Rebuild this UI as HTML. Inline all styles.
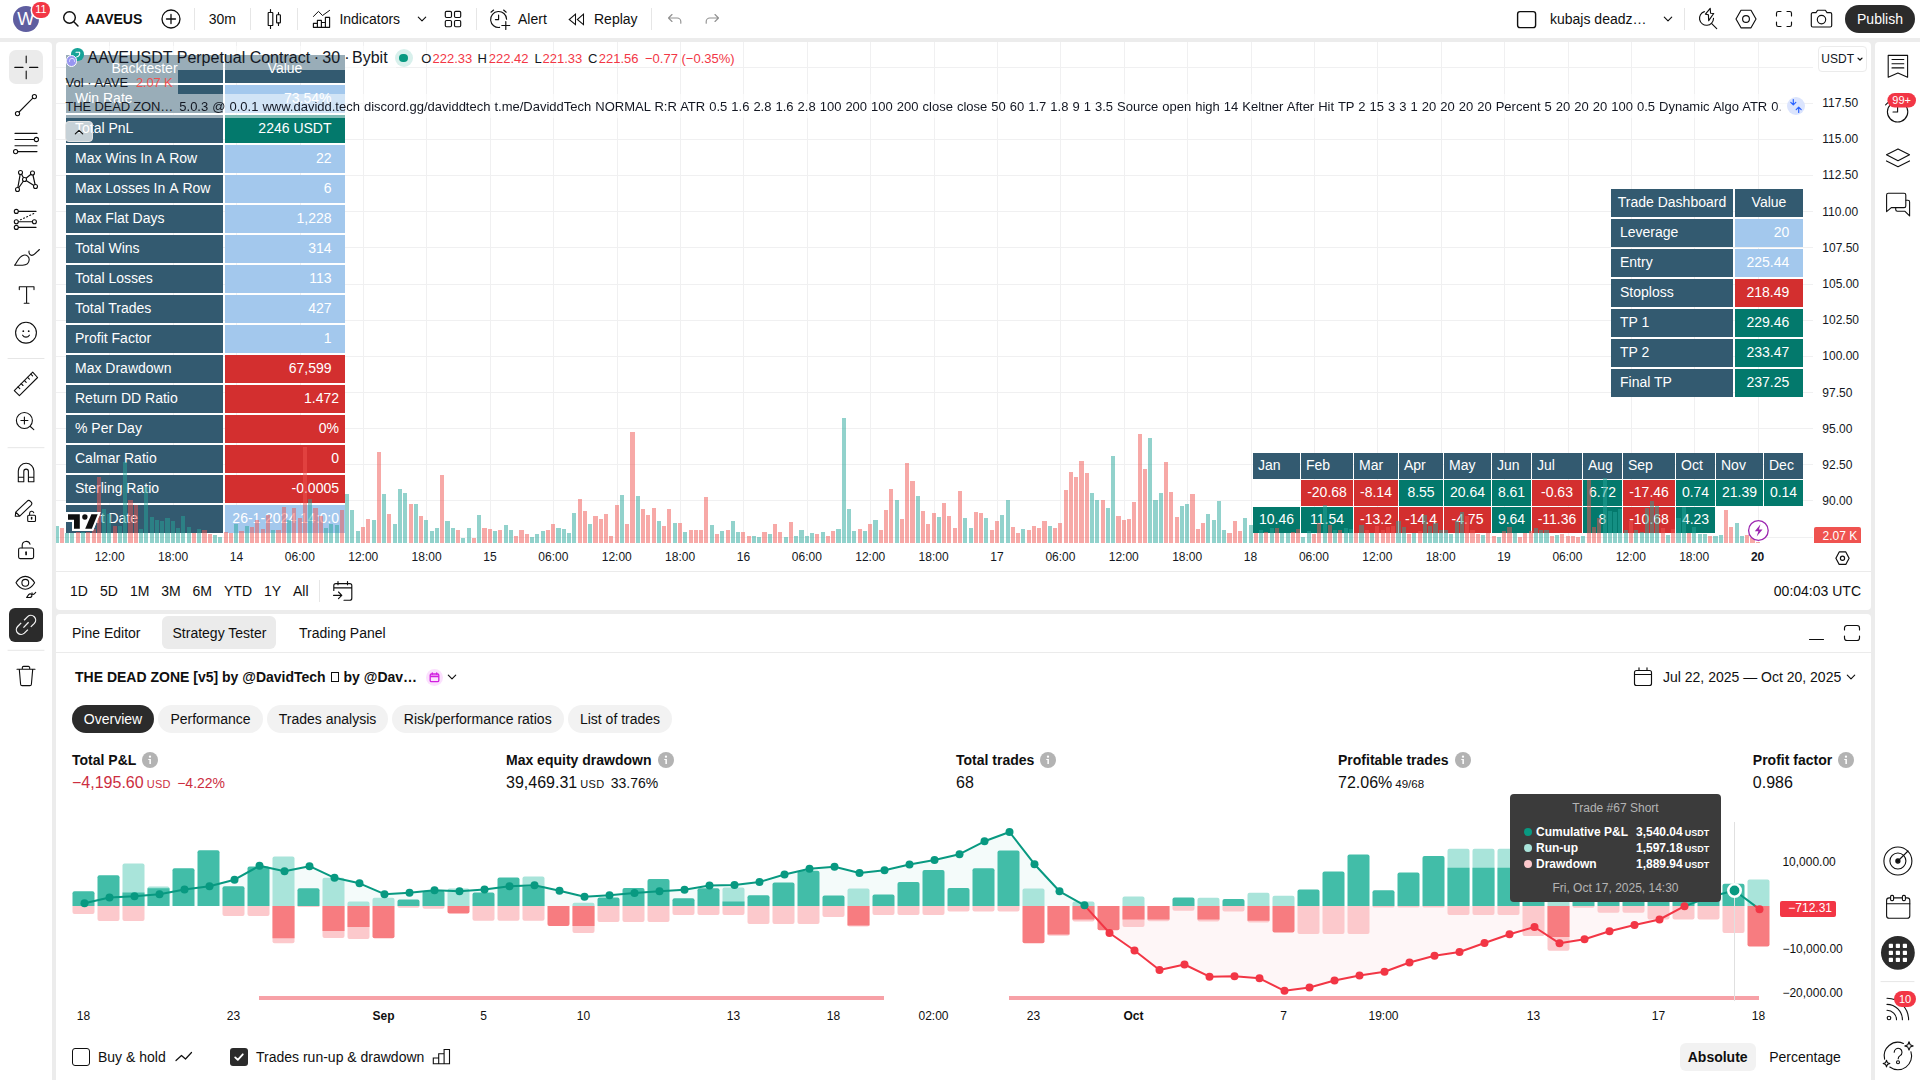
<!DOCTYPE html>
<html lang="en"><head><meta charset="utf-8"><title>AAVEUSDT chart</title>
<style>
*{box-sizing:border-box}
html,body{margin:0;padding:0}
body{width:1920px;height:1080px;overflow:hidden;background:#ececec;font-family:"Liberation Sans",sans-serif;color:#131722;position:relative;font-size:14px}
</style></head><body>
<div style="position:absolute;left:0px;top:0px;width:1920px;height:38px;background:#fff;"></div>
<div style="position:absolute;left:0px;top:42px;width:52px;height:1038px;background:#fff;border-top-right-radius:4px;"></div>
<div style="position:absolute;left:56px;top:42px;width:1815px;height:568px;background:#fff;border-radius:4px;"></div>
<div style="position:absolute;left:56px;top:614px;width:1815px;height:466px;background:#fff;border-radius:4px 4px 0 0;"></div>
<div style="position:absolute;left:1875px;top:42px;width:45px;height:1038px;background:#fff;border-top-left-radius:4px;"></div>
<div style="position:absolute;left:13px;top:6.100px;width:25.800px;height:25.800px;border-radius:50%;background:#5f5ea0"></div>
<div style="position:absolute;left:-474.2px;width:1000px;text-align:center;top:6.60px;line-height:24px;font-size:18px;color:#fff;white-space:pre;">W</div>
<div style="position:absolute;left:32.200px;top:1.800px;width:17.700px;height:16.100px;border-radius:8.050px;background:#f23645;box-shadow:0 0 0 1.500px #fff"></div>
<div style="position:absolute;left:-459px;width:1000px;text-align:center;top:0.50px;line-height:17px;font-size:11px;color:#fff;white-space:pre;">11</div>
<svg style="position:absolute;left:62px;top:10px;" width="18" height="18" viewBox="0 0 18 18" fill="none" stroke="#0f0f0f" stroke-width="1.15" stroke-linecap="round" stroke-linejoin="round"><circle cx="7.5" cy="7.5" r="5.8" stroke-width="1.45"/><path d="M11.8 11.8L16 16" stroke-width="1.45"/></svg>
<div style="position:absolute;left:85px;top:9.00px;line-height:20px;font-size:14px;font-weight:700;color:#0f0f0f;white-space:pre;">AAVEUS</div>
<svg style="position:absolute;left:160px;top:8px;" width="22" height="22" viewBox="0 0 22 22" fill="none" stroke="#0f0f0f" stroke-width="1.15" stroke-linecap="round" stroke-linejoin="round"><circle cx="11" cy="11" r="9" stroke-width="1.3"/><path d="M11 6.5v9M6.5 11h9" stroke-width="1.3"/></svg>
<div style="position:absolute;left:194px;top:8px;width:1px;height:22px;background:#e6e6e6;"></div>
<div style="position:absolute;left:208.7px;top:9.00px;line-height:20px;font-size:14px;color:#0f0f0f;white-space:pre;">30m</div>
<div style="position:absolute;left:250px;top:8px;width:1px;height:22px;background:#e6e6e6;"></div>
<svg style="position:absolute;left:264px;top:8px;" width="22" height="22" viewBox="0 0 22 22" fill="none" stroke="#0f0f0f" stroke-width="1.15" stroke-linecap="round" stroke-linejoin="round"><path d="M6.5 1.5v3M6.5 17.5v3M14.5 4.5v2M14.5 15v2.5"/><rect x="4.2" y="4.5" width="4.6" height="13" rx="0.6"/><rect x="12.6" y="6.7" width="3.8" height="8.2" rx="0.6"/></svg>
<div style="position:absolute;left:297px;top:8px;width:1px;height:22px;background:#e6e6e6;"></div>
<svg style="position:absolute;left:311px;top:8px;" width="22" height="22" viewBox="0 0 22 22" fill="none" stroke="#0f0f0f" stroke-width="1.15" stroke-linecap="round" stroke-linejoin="round"><path d="M2.4 8.500L7.500 3.400l4 4.100L18.600 2.400" stroke-width="1"/><path d="M2.400 19.300v-3.900h4v3.900zM6.400 19.300v-6.900h4v6.900zM10.400 19.300v-4.800h4v4.800zM14.400 19.300v-10h4.200v10z" stroke-width="1.150"/></svg>
<div style="position:absolute;left:339.4px;top:9.00px;line-height:20px;font-size:14px;color:#0f0f0f;white-space:pre;">Indicators</div>
<svg style="position:absolute;left:416px;top:14px;" width="12" height="10" viewBox="0 0 12 10" fill="none" stroke="#0f0f0f" stroke-width="1.15" stroke-linecap="round" stroke-linejoin="round"><path d="M2.3 3.2L6 6.8l3.7-3.6"/></svg>
<svg style="position:absolute;left:443px;top:9px;" width="20" height="20" viewBox="0 0 20 20" fill="none" stroke="#0f0f0f" stroke-width="1.15" stroke-linecap="round" stroke-linejoin="round"><rect x="2.3" y="2.3" width="6.2" height="6.2" rx="1.2"/><rect x="11.5" y="2.3" width="6.2" height="6.2" rx="1.2"/><rect x="2.3" y="11.5" width="6.2" height="6.2" rx="1.2"/><rect x="11.5" y="11.5" width="6.2" height="6.2" rx="1.2"/></svg>
<div style="position:absolute;left:476px;top:8px;width:1px;height:22px;background:#e6e6e6;"></div>
<svg style="position:absolute;left:488px;top:7px;" width="24" height="24" viewBox="0 0 24 24" fill="none" stroke="#0f0f0f" stroke-width="1.15" stroke-linecap="round" stroke-linejoin="round"><path d="M18.6 12.2a8 8 0 1 0-7 8.2"/><path d="M10.6 8v4.6H7.4"/><path d="M3 5.2L5.6 3M18.2 5.2L15.6 3"/><path d="M17.8 14.5v8M13.8 18.5h8"/></svg>
<div style="position:absolute;left:518px;top:9.00px;line-height:20px;font-size:14px;color:#0f0f0f;white-space:pre;">Alert</div>
<svg style="position:absolute;left:567px;top:10px;" width="20" height="18" viewBox="0 0 20 18" fill="none" stroke="#0f0f0f" stroke-width="1.15" stroke-linecap="round" stroke-linejoin="round"><path d="M8.500 4.100v10.600L2.200 9.500zM16.500 4.100v10.600L10.300 9.500z" stroke-width="1.050" stroke-linejoin="miter"/></svg>
<div style="position:absolute;left:594px;top:9.00px;line-height:20px;font-size:14px;color:#0f0f0f;white-space:pre;">Replay</div>
<div style="position:absolute;left:651px;top:8px;width:1px;height:22px;background:#e6e6e6;"></div>
<svg style="position:absolute;left:665px;top:10px;opacity:.45;" width="20" height="18" viewBox="0 0 20 18" fill="none" stroke="#0f0f0f" stroke-width="1.15" stroke-linecap="round" stroke-linejoin="round"><path d="M7 4.5L3.5 8 7 11.5M3.8 8h8.4a3.6 3.6 0 0 1 3.6 3.6v1.6"/></svg>
<svg style="position:absolute;left:702px;top:10px;opacity:.45;" width="20" height="18" viewBox="0 0 20 18" fill="none" stroke="#0f0f0f" stroke-width="1.15" stroke-linecap="round" stroke-linejoin="round"><path d="M13 4.5L16.5 8 13 11.5M16.2 8H7.8a3.6 3.6 0 0 0-3.6 3.6v1.6"/></svg>
<svg style="position:absolute;left:1515px;top:9px;" width="24" height="22" viewBox="0 0 24 22" fill="none" stroke="#0f0f0f" stroke-width="1.15" stroke-linecap="round" stroke-linejoin="round"><rect x="2.6" y="2.6" width="18" height="16" rx="2.4" stroke-width="1.4"/></svg>
<div style="position:absolute;left:1550px;top:9.00px;line-height:20px;font-size:14px;color:#0f0f0f;white-space:pre;">kubajs deadz…</div>
<svg style="position:absolute;left:1662px;top:14px;" width="12" height="10" viewBox="0 0 12 10" fill="none" stroke="#0f0f0f" stroke-width="1.15" stroke-linecap="round" stroke-linejoin="round"><path d="M2.3 3.2L6 6.8l3.7-3.6"/></svg>
<div style="position:absolute;left:1684px;top:8px;width:1px;height:22px;background:#e6e6e6;"></div>
<svg style="position:absolute;left:1696px;top:6px;" width="24" height="26" viewBox="0 0 24 26" fill="none" stroke="#0f0f0f" stroke-width="1.15" stroke-linecap="round" stroke-linejoin="round"><path d="M8.400 5.600A7 7 0 1 0 17.500 12.400"/><path d="M15.700 17.700L20.700 22.600"/><path d="M14.200 2.400L9.400 8.100l3 .600.300 5.900 5-7.100-3.100-.300z" stroke-width="1.150"/></svg>
<svg style="position:absolute;left:1734px;top:7px;" width="24" height="24" viewBox="0 0 24 24" fill="none" stroke="#0f0f0f" stroke-width="1.15" stroke-linecap="round" stroke-linejoin="round"><path d="M7 3.2h10l5 8.8-5 8.8H7L2 12z"/><circle cx="12" cy="12" r="3.4"/></svg>
<svg style="position:absolute;left:1774px;top:9px;" width="20" height="20" viewBox="0 0 20 20" fill="none" stroke="#0f0f0f" stroke-width="1.15" stroke-linecap="round" stroke-linejoin="round"><path d="M2.5 7V4.3A1.8 1.8 0 0 1 4.3 2.5H7M13 2.5h2.7a1.8 1.8 0 0 1 1.8 1.8V7M17.5 13v2.7a1.8 1.8 0 0 1-1.8 1.8H13M7 17.5H4.3a1.8 1.8 0 0 1-1.8-1.8V13"/></svg>
<svg style="position:absolute;left:1809px;top:8px;" width="26" height="22" viewBox="0 0 26 22" fill="none" stroke="#0f0f0f" stroke-width="1.15" stroke-linecap="round" stroke-linejoin="round"><path d="M3.800 4.600h3.200l1.600-2.400h7.800l1.600 2.400h3.200a1.500 1.500 0 0 1 1.500 1.500v11.400a1.500 1.500 0 0 1-1.500 1.500H3.800a1.500 1.500 0 0 1-1.500-1.500V6.100a1.500 1.500 0 0 1 1.500-1.500z"/><circle cx="12.500" cy="11.600" r="4.200"/></svg>
<div style="position:absolute;left:1845px;top:5px;width:70px;height:28px;border-radius:14px;background:#2b2b2b"></div>
<div style="position:absolute;left:1380px;width:1000px;text-align:center;top:9.00px;line-height:20px;font-size:14px;color:#fff;white-space:pre;">Publish</div>
<svg style="position:absolute;left:0;top:0" width="56" height="1080" viewBox="0 0 56 1080" fill="none" stroke="#0f0f0f" stroke-width="1.1" stroke-linecap="round" stroke-linejoin="round"><rect x="9" y="50" width="34" height="34" rx="7" fill="#ebebeb" stroke="none"/><path d="M26.2 56v6.8M26.2 71v7.8M14.8 67.4h8.2M29.6 67.4h8.2"/><circle cx="34.4" cy="96.6" r="2.1"/><circle cx="17.5" cy="113.6" r="2.1"/><path d="M19.1 112L32.8 98.2"/><path d="M15 133.4h22M15 139.5h19M15 145.7h22M18 151.6h19"/><circle cx="36.4" cy="139.5" r="2.1" fill="#fff"/><circle cx="15.6" cy="151.6" r="2.1" fill="#fff"/><path d="M17.5 189.5L20.5 172.5 24.5 179.5 32.5 173 35.5 186.5 24.5 179.5z" stroke-width="1.2"/><circle cx="20.5" cy="172.5" r="2" fill="#fff"/><circle cx="32.5" cy="173" r="2" fill="#fff"/><circle cx="24.5" cy="179.5" r="2" fill="#fff"/><circle cx="35.5" cy="186.5" r="2" fill="#fff"/><circle cx="17.5" cy="189.5" r="2" fill="#fff"/><path d="M18.5 211.4H36M18.5 221.8H32M18.5 227.4H36"/><path d="M20.5 219.8L35 213" stroke-dasharray="1 2.4" stroke-width="1.1"/><circle cx="16.3" cy="211.4" r="2"/><circle cx="16.3" cy="221.8" r="2"/><circle cx="34.4" cy="221.8" r="2"/><circle cx="16.3" cy="227.4" r="2"/><path d="M14.6 265.2c2.2-1.6 3.6-8.6 9-10 3.2-.8 5.8 1.6 5.6 4.6-.3 3.6-3.2 5.4-6.6 5.4z"/><path d="M29 251c-.4 2.2 1 4.400 2.8 4.400 2.400 0 4.800-3.400 7.600-5.900"/><path d="M19.3 289.6v-2.900h14.700v2.900M26.600 286.700v16.600M24.200 303.300h4.800"/><circle cx="26" cy="332.700" r="10.400"/><circle cx="23.300" cy="331.200" r="0.900" fill="#0f0f0f" stroke="none"/><circle cx="28.700" cy="331.200" r="0.900" fill="#0f0f0f" stroke="none"/><path d="M22.600 335.200c1.600 2.600 5.200 2.600 6.800 0"/><path d="M8 358.500h36" stroke="#e6e6e6" stroke-width="1"/><path d="M14.300 390.600L32.700 372.100 37.600 377.500 19.400 395.600z"/><path d="M18 386.900l1.800 1.800M21.200 383.700l1.800 1.800M24.400 380.500l1.800 1.800M27.600 377.300l1.800 1.800M30.800 374.100l1.800 1.800" stroke-width="1.100"/><circle cx="24.400" cy="420.500" r="8"/><path d="M24.400 417v7M20.900 420.500h7M30.300 426.500l3.500 3.200"/><path d="M8 447.700h36" stroke="#e6e6e6" stroke-width="1"/><path d="M18.300 481.700v-10.600a7.800 7.800 0 0 1 15.600 0v10.600h-5.500v-10.300a2.300 2.300 0 0 0-4.600 0v10.300zM18.300 477.300h5.500M28.400 477.300h5.500"/><path d="M15.300 516.300l.4-4.200 11.300-10.800a2.500 2.500 0 0 1 3.500 0l.5.500a2.500 2.500 0 0 1 0 3.500L19.700 516.100zM15.800 512.100l3.800 3.900"/><rect x="27.700" y="515.200" width="7.800" height="6.300" rx="1" fill="#fff"/><path d="M29.600 515v-1.700a2.100 2.100 0 0 1 4.100-.6"/><path d="M31.600 517.600v1.500" stroke-width="1.500"/><rect x="18.600" y="548" width="15" height="10.600" rx="1.600"/><path d="M22.200 547.800v-2.500a4 4 0 0 1 7.800-1.100"/><path d="M26.100 552.200v2.300" stroke-width="1.700"/><path d="M16 582.800c2.600-4.400 5.800-6.400 9.300-6.400s6.700 2 9.300 6.400c-2.600 4.400-5.800 6.400-9.300 6.400s-6.700-2-9.300-6.400z"/><circle cx="25.300" cy="582.800" r="3.400"/><path d="M26.600 597.400c1-.6 1.400-3 3.300-3.500 1.200-.3 2.100.6 2 1.700-.1 1.300-1.200 1.900-2.400 1.900zM32 592.900c0 .8.400 1.500 1 1.500.8 0 1.700-1.100 2.700-2" stroke-width="1.100"/><rect x="9" y="608" width="34" height="34" rx="6" fill="#2b2b2b" stroke="none"/><g stroke="#f4f4f4" stroke-width="1.300" stroke-linecap="butt"><path d="M24.100 620.200L27.650 616.650A4.740 4.740 0 0 1 34.350 623.350L30.800 626.900"/><path d="M27.900 629.600L24.350 633.150A4.740 4.740 0 0 1 17.650 626.450L21.200 622.900"/><path d="M23.400 627.600L28.600 622.200"/></g><path d="M8 650.300h36" stroke="#e6e6e6" stroke-width="1"/><path d="M17 669.200h18M22.300 669v-1.300a1.300 1.300 0 0 1 1.300-1.300h4.800a1.300 1.300 0 0 1 1.300 1.300v1.300M19.300 669.400l1.300 14.800a1.500 1.500 0 0 0 1.500 1.400h7.800a1.500 1.500 0 0 0 1.500-1.400l1.300-14.800"/></svg>
<svg style="position:absolute;left:0;top:0" width="1920" height="600" fill="#f0f0f1" shape-rendering="crispEdges"><rect x="109" y="42" width="1" height="501" /><rect x="173" y="42" width="1" height="501" /><rect x="236" y="42" width="1" height="501" /><rect x="300" y="42" width="1" height="501" /><rect x="363" y="42" width="1" height="501" /><rect x="426" y="42" width="1" height="501" /><rect x="490" y="42" width="1" height="501" /><rect x="553" y="42" width="1" height="501" /><rect x="617" y="42" width="1" height="501" /><rect x="680" y="42" width="1" height="501" /><rect x="743" y="42" width="1" height="501" /><rect x="807" y="42" width="1" height="501" /><rect x="870" y="42" width="1" height="501" /><rect x="934" y="42" width="1" height="501" /><rect x="997" y="42" width="1" height="501" /><rect x="1060" y="42" width="1" height="501" /><rect x="1124" y="42" width="1" height="501" /><rect x="1187" y="42" width="1" height="501" /><rect x="1251" y="42" width="1" height="501" /><rect x="1314" y="42" width="1" height="501" /><rect x="1377" y="42" width="1" height="501" /><rect x="1441" y="42" width="1" height="501" /><rect x="1504" y="42" width="1" height="501" /><rect x="1568" y="42" width="1" height="501" /><rect x="1631" y="42" width="1" height="501" /><rect x="1694" y="42" width="1" height="501" /><rect x="1758" y="42" width="1" height="501" /><rect x="56" y="67" width="1757" height="1" /><rect x="56" y="103" width="1757" height="1" /><rect x="56" y="139" width="1757" height="1" /><rect x="56" y="175" width="1757" height="1" /><rect x="56" y="211" width="1757" height="1" /><rect x="56" y="247" width="1757" height="1" /><rect x="56" y="284" width="1757" height="1" /><rect x="56" y="320" width="1757" height="1" /><rect x="56" y="356" width="1757" height="1" /><rect x="56" y="392" width="1757" height="1" /><rect x="56" y="428" width="1757" height="1" /><rect x="56" y="464" width="1757" height="1" /><rect x="56" y="500" width="1757" height="1" /><rect x="56" y="537" width="1757" height="1" /></svg>
<div style="position:absolute;left:66px;top:55.2px;width:157px;height:27.5px;background:#335a70;"></div>
<div style="position:absolute;left:225px;top:55.2px;width:120px;height:27.5px;background:#335a70;"></div>
<div style="position:absolute;left:-355.5px;width:1000px;text-align:center;top:58.30px;line-height:20px;font-size:14px;color:#fff;white-space:pre;">Backtester</div>
<div style="position:absolute;left:-215px;width:1000px;text-align:center;top:58.30px;line-height:20px;font-size:14px;color:#fff;white-space:pre;">Value</div>
<div style="position:absolute;left:66px;top:85.2px;width:157px;height:27.5px;background:#335a70;"></div>
<div style="position:absolute;left:225px;top:85.2px;width:120px;height:27.5px;background:#a3c8ed;"></div>
<div style="position:absolute;left:75px;top:88.30px;line-height:20px;font-size:14px;color:#fff;white-space:pre;">Win Rate</div>
<div style="position:absolute;right:1588.5px;top:88.30px;line-height:20px;font-size:14px;color:#fff;white-space:pre;">73.54%</div>
<div style="position:absolute;left:66px;top:115.2px;width:157px;height:27.5px;background:#335a70;"></div>
<div style="position:absolute;left:225px;top:115.2px;width:120px;height:27.5px;background:#03796c;"></div>
<div style="position:absolute;left:75px;top:118.30px;line-height:20px;font-size:14px;color:#fff;white-space:pre;">Total PnL</div>
<div style="position:absolute;right:1588.5px;top:118.30px;line-height:20px;font-size:14px;color:#fff;white-space:pre;">2246 USDT</div>
<div style="position:absolute;left:66px;top:145.2px;width:157px;height:27.5px;background:#335a70;"></div>
<div style="position:absolute;left:225px;top:145.2px;width:120px;height:27.5px;background:#a3c8ed;"></div>
<div style="position:absolute;left:75px;top:148.30px;line-height:20px;font-size:14px;color:#fff;white-space:pre;">Max Wins In<span style="font-kerning:none"> A </span>Row</div>
<div style="position:absolute;right:1588.5px;top:148.30px;line-height:20px;font-size:14px;color:#fff;white-space:pre;">22</div>
<div style="position:absolute;left:66px;top:175.2px;width:157px;height:27.5px;background:#335a70;"></div>
<div style="position:absolute;left:225px;top:175.2px;width:120px;height:27.5px;background:#a3c8ed;"></div>
<div style="position:absolute;left:75px;top:178.30px;line-height:20px;font-size:14px;color:#fff;white-space:pre;">Max Losses In<span style="font-kerning:none"> A </span>Row</div>
<div style="position:absolute;right:1588.5px;top:178.30px;line-height:20px;font-size:14px;color:#fff;white-space:pre;">6</div>
<div style="position:absolute;left:66px;top:205.2px;width:157px;height:27.5px;background:#335a70;"></div>
<div style="position:absolute;left:225px;top:205.2px;width:120px;height:27.5px;background:#a3c8ed;"></div>
<div style="position:absolute;left:75px;top:208.30px;line-height:20px;font-size:14px;color:#fff;white-space:pre;">Max Flat Days</div>
<div style="position:absolute;right:1588.5px;top:208.30px;line-height:20px;font-size:14px;color:#fff;white-space:pre;">1,228</div>
<div style="position:absolute;left:66px;top:235.2px;width:157px;height:27.5px;background:#335a70;"></div>
<div style="position:absolute;left:225px;top:235.2px;width:120px;height:27.5px;background:#a3c8ed;"></div>
<div style="position:absolute;left:75px;top:238.30px;line-height:20px;font-size:14px;color:#fff;white-space:pre;">Total Wins</div>
<div style="position:absolute;right:1588.5px;top:238.30px;line-height:20px;font-size:14px;color:#fff;white-space:pre;">314</div>
<div style="position:absolute;left:66px;top:265.2px;width:157px;height:27.5px;background:#335a70;"></div>
<div style="position:absolute;left:225px;top:265.2px;width:120px;height:27.5px;background:#a3c8ed;"></div>
<div style="position:absolute;left:75px;top:268.30px;line-height:20px;font-size:14px;color:#fff;white-space:pre;">Total Losses</div>
<div style="position:absolute;right:1588.5px;top:268.30px;line-height:20px;font-size:14px;color:#fff;white-space:pre;">113</div>
<div style="position:absolute;left:66px;top:295.2px;width:157px;height:27.5px;background:#335a70;"></div>
<div style="position:absolute;left:225px;top:295.2px;width:120px;height:27.5px;background:#a3c8ed;"></div>
<div style="position:absolute;left:75px;top:298.30px;line-height:20px;font-size:14px;color:#fff;white-space:pre;">Total Trades</div>
<div style="position:absolute;right:1588.5px;top:298.30px;line-height:20px;font-size:14px;color:#fff;white-space:pre;">427</div>
<div style="position:absolute;left:66px;top:325.2px;width:157px;height:27.5px;background:#335a70;"></div>
<div style="position:absolute;left:225px;top:325.2px;width:120px;height:27.5px;background:#a3c8ed;"></div>
<div style="position:absolute;left:75px;top:328.30px;line-height:20px;font-size:14px;color:#fff;white-space:pre;">Profit Factor</div>
<div style="position:absolute;right:1588.5px;top:328.30px;line-height:20px;font-size:14px;color:#fff;white-space:pre;">1</div>
<div style="position:absolute;left:66px;top:355.2px;width:157px;height:27.5px;background:#335a70;"></div>
<div style="position:absolute;left:225px;top:355.2px;width:120px;height:27.5px;background:#d32f2f;"></div>
<div style="position:absolute;left:75px;top:358.30px;line-height:20px;font-size:14px;color:#fff;white-space:pre;">Max Drawdown</div>
<div style="position:absolute;right:1588.5px;top:358.30px;line-height:20px;font-size:14px;color:#fff;white-space:pre;">67,599</div>
<div style="position:absolute;left:66px;top:385.2px;width:157px;height:27.5px;background:#335a70;"></div>
<div style="position:absolute;left:225px;top:385.2px;width:120px;height:27.5px;background:#d32f2f;"></div>
<div style="position:absolute;left:75px;top:388.30px;line-height:20px;font-size:14px;color:#fff;white-space:pre;">Return DD Ratio</div>
<div style="position:absolute;right:1581px;top:388.30px;line-height:20px;font-size:14px;color:#fff;white-space:pre;">1.472</div>
<div style="position:absolute;left:66px;top:415.2px;width:157px;height:27.5px;background:#335a70;"></div>
<div style="position:absolute;left:225px;top:415.2px;width:120px;height:27.5px;background:#d32f2f;"></div>
<div style="position:absolute;left:75px;top:418.30px;line-height:20px;font-size:14px;color:#fff;white-space:pre;">% Per Day</div>
<div style="position:absolute;right:1581px;top:418.30px;line-height:20px;font-size:14px;color:#fff;white-space:pre;">0%</div>
<div style="position:absolute;left:66px;top:445.2px;width:157px;height:27.5px;background:#335a70;"></div>
<div style="position:absolute;left:225px;top:445.2px;width:120px;height:27.5px;background:#d32f2f;"></div>
<div style="position:absolute;left:75px;top:448.30px;line-height:20px;font-size:14px;color:#fff;white-space:pre;">Calmar Ratio</div>
<div style="position:absolute;right:1581px;top:448.30px;line-height:20px;font-size:14px;color:#fff;white-space:pre;">0</div>
<div style="position:absolute;left:66px;top:475.2px;width:157px;height:27.5px;background:#335a70;"></div>
<div style="position:absolute;left:225px;top:475.2px;width:120px;height:27.5px;background:#d32f2f;"></div>
<div style="position:absolute;left:75px;top:478.30px;line-height:20px;font-size:14px;color:#fff;white-space:pre;">Sterling Ratio</div>
<div style="position:absolute;right:1581px;top:478.30px;line-height:20px;font-size:14px;color:#fff;white-space:pre;">-0.0005</div>
<div style="position:absolute;left:66px;top:505.2px;width:157px;height:27.5px;background:#335a70;"></div>
<div style="position:absolute;left:225px;top:505.2px;width:120px;height:27.5px;background:#a3c8ed;"></div>
<div style="position:absolute;left:75px;top:508.30px;line-height:20px;font-size:14px;color:#fff;white-space:pre;">Start Date</div>
<div style="position:absolute;right:1581px;top:508.30px;line-height:20px;font-size:14px;color:#fff;white-space:pre;">26-1-2024 14:0:0</div>
<div style="position:absolute;left:1611px;top:189.2px;width:122px;height:27.5px;background:#335a70;"></div>
<div style="position:absolute;left:1735px;top:189.2px;width:68px;height:27.5px;background:#335a70;"></div>
<div style="position:absolute;left:1172px;width:1000px;text-align:center;top:192.30px;line-height:20px;font-size:14px;color:#fff;white-space:pre;">Trade Dashboard</div>
<div style="position:absolute;left:1269px;width:1000px;text-align:center;top:192.30px;line-height:20px;font-size:14px;color:#fff;white-space:pre;">Value</div>
<div style="position:absolute;left:1611px;top:219.2px;width:122px;height:27.5px;background:#335a70;"></div>
<div style="position:absolute;left:1735px;top:219.2px;width:68px;height:27.5px;background:#a3c8ed;"></div>
<div style="position:absolute;left:1620px;top:222.30px;line-height:20px;font-size:14px;color:#fff;white-space:pre;">Leverage</div>
<div style="position:absolute;right:130.70000000000005px;top:222.30px;line-height:20px;font-size:14px;color:#fff;white-space:pre;">20</div>
<div style="position:absolute;left:1611px;top:249.2px;width:122px;height:27.5px;background:#335a70;"></div>
<div style="position:absolute;left:1735px;top:249.2px;width:68px;height:27.5px;background:#a3c8ed;"></div>
<div style="position:absolute;left:1620px;top:252.30px;line-height:20px;font-size:14px;color:#fff;white-space:pre;">Entry</div>
<div style="position:absolute;right:130.70000000000005px;top:252.30px;line-height:20px;font-size:14px;color:#fff;white-space:pre;">225.44</div>
<div style="position:absolute;left:1611px;top:279.2px;width:122px;height:27.5px;background:#335a70;"></div>
<div style="position:absolute;left:1735px;top:279.2px;width:68px;height:27.5px;background:#d32f2f;"></div>
<div style="position:absolute;left:1620px;top:282.30px;line-height:20px;font-size:14px;color:#fff;white-space:pre;">Stoploss</div>
<div style="position:absolute;right:130.70000000000005px;top:282.30px;line-height:20px;font-size:14px;color:#fff;white-space:pre;">218.49</div>
<div style="position:absolute;left:1611px;top:309.2px;width:122px;height:27.5px;background:#335a70;"></div>
<div style="position:absolute;left:1735px;top:309.2px;width:68px;height:27.5px;background:#03796c;"></div>
<div style="position:absolute;left:1620px;top:312.30px;line-height:20px;font-size:14px;color:#fff;white-space:pre;">TP 1</div>
<div style="position:absolute;right:130.70000000000005px;top:312.30px;line-height:20px;font-size:14px;color:#fff;white-space:pre;">229.46</div>
<div style="position:absolute;left:1611px;top:339.2px;width:122px;height:27.5px;background:#335a70;"></div>
<div style="position:absolute;left:1735px;top:339.2px;width:68px;height:27.5px;background:#03796c;"></div>
<div style="position:absolute;left:1620px;top:342.30px;line-height:20px;font-size:14px;color:#fff;white-space:pre;">TP 2</div>
<div style="position:absolute;right:130.70000000000005px;top:342.30px;line-height:20px;font-size:14px;color:#fff;white-space:pre;">233.47</div>
<div style="position:absolute;left:1611px;top:369.2px;width:122px;height:27.5px;background:#335a70;"></div>
<div style="position:absolute;left:1735px;top:369.2px;width:68px;height:27.5px;background:#03796c;"></div>
<div style="position:absolute;left:1620px;top:372.30px;line-height:20px;font-size:14px;color:#fff;white-space:pre;">Final TP</div>
<div style="position:absolute;right:130.70000000000005px;top:372.30px;line-height:20px;font-size:14px;color:#fff;white-space:pre;">237.25</div>
<div style="position:absolute;left:1253px;top:453px;width:47px;height:25.8px;background:#335a70;"></div>
<div style="position:absolute;left:1258px;top:455.30px;line-height:20px;font-size:14px;color:#fff;white-space:pre;">Jan</div>
<div style="position:absolute;left:1253px;top:507px;width:47px;height:25.8px;background:#03796c;"></div>
<div style="position:absolute;left:776.5px;width:1000px;text-align:center;top:509.40px;line-height:20px;font-size:14px;color:#fff;white-space:pre;">10.46</div>
<div style="position:absolute;left:1301px;top:453px;width:52px;height:25.8px;background:#335a70;"></div>
<div style="position:absolute;left:1306px;top:455.30px;line-height:20px;font-size:14px;color:#fff;white-space:pre;">Feb</div>
<div style="position:absolute;left:1301px;top:480px;width:52px;height:25.8px;background:#d32f2f;"></div>
<div style="position:absolute;left:827.0px;width:1000px;text-align:center;top:482.40px;line-height:20px;font-size:14px;color:#fff;white-space:pre;">-20.68</div>
<div style="position:absolute;left:1301px;top:507px;width:52px;height:25.8px;background:#03796c;"></div>
<div style="position:absolute;left:827.0px;width:1000px;text-align:center;top:509.40px;line-height:20px;font-size:14px;color:#fff;white-space:pre;">11.54</div>
<div style="position:absolute;left:1354px;top:453px;width:44px;height:25.8px;background:#335a70;"></div>
<div style="position:absolute;left:1359px;top:455.30px;line-height:20px;font-size:14px;color:#fff;white-space:pre;">Mar</div>
<div style="position:absolute;left:1354px;top:480px;width:44px;height:25.8px;background:#d32f2f;"></div>
<div style="position:absolute;left:876.0px;width:1000px;text-align:center;top:482.40px;line-height:20px;font-size:14px;color:#fff;white-space:pre;">-8.14</div>
<div style="position:absolute;left:1354px;top:507px;width:44px;height:25.8px;background:#d32f2f;"></div>
<div style="position:absolute;left:876.0px;width:1000px;text-align:center;top:509.40px;line-height:20px;font-size:14px;color:#fff;white-space:pre;">-13.2</div>
<div style="position:absolute;left:1399px;top:453px;width:44px;height:25.8px;background:#335a70;"></div>
<div style="position:absolute;left:1404px;top:455.30px;line-height:20px;font-size:14px;color:#fff;white-space:pre;">Apr</div>
<div style="position:absolute;left:1399px;top:480px;width:44px;height:25.8px;background:#03796c;"></div>
<div style="position:absolute;left:921.0px;width:1000px;text-align:center;top:482.40px;line-height:20px;font-size:14px;color:#fff;white-space:pre;">8.55</div>
<div style="position:absolute;left:1399px;top:507px;width:44px;height:25.8px;background:#d32f2f;"></div>
<div style="position:absolute;left:921.0px;width:1000px;text-align:center;top:509.40px;line-height:20px;font-size:14px;color:#fff;white-space:pre;">-14.4</div>
<div style="position:absolute;left:1444px;top:453px;width:47px;height:25.8px;background:#335a70;"></div>
<div style="position:absolute;left:1449px;top:455.30px;line-height:20px;font-size:14px;color:#fff;white-space:pre;">May</div>
<div style="position:absolute;left:1444px;top:480px;width:47px;height:25.8px;background:#03796c;"></div>
<div style="position:absolute;left:967.5px;width:1000px;text-align:center;top:482.40px;line-height:20px;font-size:14px;color:#fff;white-space:pre;">20.64</div>
<div style="position:absolute;left:1444px;top:507px;width:47px;height:25.8px;background:#d32f2f;"></div>
<div style="position:absolute;left:967.5px;width:1000px;text-align:center;top:509.40px;line-height:20px;font-size:14px;color:#fff;white-space:pre;">-4.75</div>
<div style="position:absolute;left:1492px;top:453px;width:39px;height:25.8px;background:#335a70;"></div>
<div style="position:absolute;left:1497px;top:455.30px;line-height:20px;font-size:14px;color:#fff;white-space:pre;">Jun</div>
<div style="position:absolute;left:1492px;top:480px;width:39px;height:25.8px;background:#03796c;"></div>
<div style="position:absolute;left:1011.5px;width:1000px;text-align:center;top:482.40px;line-height:20px;font-size:14px;color:#fff;white-space:pre;">8.61</div>
<div style="position:absolute;left:1492px;top:507px;width:39px;height:25.8px;background:#03796c;"></div>
<div style="position:absolute;left:1011.5px;width:1000px;text-align:center;top:509.40px;line-height:20px;font-size:14px;color:#fff;white-space:pre;">9.64</div>
<div style="position:absolute;left:1532px;top:453px;width:50px;height:25.8px;background:#335a70;"></div>
<div style="position:absolute;left:1537px;top:455.30px;line-height:20px;font-size:14px;color:#fff;white-space:pre;">Jul</div>
<div style="position:absolute;left:1532px;top:480px;width:50px;height:25.8px;background:#d32f2f;"></div>
<div style="position:absolute;left:1057.0px;width:1000px;text-align:center;top:482.40px;line-height:20px;font-size:14px;color:#fff;white-space:pre;">-0.63</div>
<div style="position:absolute;left:1532px;top:507px;width:50px;height:25.8px;background:#d32f2f;"></div>
<div style="position:absolute;left:1057.0px;width:1000px;text-align:center;top:509.40px;line-height:20px;font-size:14px;color:#fff;white-space:pre;">-11.36</div>
<div style="position:absolute;left:1583px;top:453px;width:39px;height:25.8px;background:#335a70;"></div>
<div style="position:absolute;left:1588px;top:455.30px;line-height:20px;font-size:14px;color:#fff;white-space:pre;">Aug</div>
<div style="position:absolute;left:1583px;top:480px;width:39px;height:25.8px;background:#03796c;"></div>
<div style="position:absolute;left:1102.5px;width:1000px;text-align:center;top:482.40px;line-height:20px;font-size:14px;color:#fff;white-space:pre;">6.72</div>
<div style="position:absolute;left:1583px;top:507px;width:39px;height:25.8px;background:#03796c;"></div>
<div style="position:absolute;left:1102.5px;width:1000px;text-align:center;top:509.40px;line-height:20px;font-size:14px;color:#fff;white-space:pre;">8</div>
<div style="position:absolute;left:1623px;top:453px;width:52px;height:25.8px;background:#335a70;"></div>
<div style="position:absolute;left:1628px;top:455.30px;line-height:20px;font-size:14px;color:#fff;white-space:pre;">Sep</div>
<div style="position:absolute;left:1623px;top:480px;width:52px;height:25.8px;background:#d32f2f;"></div>
<div style="position:absolute;left:1149.0px;width:1000px;text-align:center;top:482.40px;line-height:20px;font-size:14px;color:#fff;white-space:pre;">-17.46</div>
<div style="position:absolute;left:1623px;top:507px;width:52px;height:25.8px;background:#d32f2f;"></div>
<div style="position:absolute;left:1149.0px;width:1000px;text-align:center;top:509.40px;line-height:20px;font-size:14px;color:#fff;white-space:pre;">-10.68</div>
<div style="position:absolute;left:1676px;top:453px;width:39px;height:25.8px;background:#335a70;"></div>
<div style="position:absolute;left:1681px;top:455.30px;line-height:20px;font-size:14px;color:#fff;white-space:pre;">Oct</div>
<div style="position:absolute;left:1676px;top:480px;width:39px;height:25.8px;background:#03796c;"></div>
<div style="position:absolute;left:1195.5px;width:1000px;text-align:center;top:482.40px;line-height:20px;font-size:14px;color:#fff;white-space:pre;">0.74</div>
<div style="position:absolute;left:1676px;top:507px;width:39px;height:25.8px;background:#03796c;"></div>
<div style="position:absolute;left:1195.5px;width:1000px;text-align:center;top:509.40px;line-height:20px;font-size:14px;color:#fff;white-space:pre;">4.23</div>
<div style="position:absolute;left:1716px;top:453px;width:47px;height:25.8px;background:#335a70;"></div>
<div style="position:absolute;left:1721px;top:455.30px;line-height:20px;font-size:14px;color:#fff;white-space:pre;">Nov</div>
<div style="position:absolute;left:1716px;top:480px;width:47px;height:25.8px;background:#03796c;"></div>
<div style="position:absolute;left:1239.5px;width:1000px;text-align:center;top:482.40px;line-height:20px;font-size:14px;color:#fff;white-space:pre;">21.39</div>
<div style="position:absolute;left:1764px;top:453px;width:39px;height:25.8px;background:#335a70;"></div>
<div style="position:absolute;left:1769px;top:455.30px;line-height:20px;font-size:14px;color:#fff;white-space:pre;">Dec</div>
<div style="position:absolute;left:1764px;top:480px;width:39px;height:25.8px;background:#03796c;"></div>
<div style="position:absolute;left:1283.5px;width:1000px;text-align:center;top:482.40px;line-height:20px;font-size:14px;color:#fff;white-space:pre;">0.14</div>
<svg style="position:absolute;left:0;top:0" width="1920" height="600" shape-rendering="crispEdges"><rect x="56.00" y="526.33" width="2.62" height="16.67" fill="rgba(38,166,154,0.5)"/><rect x="59.80" y="528.17" width="4.10" height="14.83" fill="rgba(239,83,80,0.5)"/><rect x="65.08" y="533.00" width="4.10" height="10.00" fill="rgba(38,166,154,0.5)"/><rect x="70.37" y="533.00" width="4.10" height="10.00" fill="rgba(38,166,154,0.5)"/><rect x="75.65" y="531.83" width="4.10" height="11.17" fill="rgba(239,83,80,0.5)"/><rect x="80.93" y="531.50" width="4.10" height="11.50" fill="rgba(38,166,154,0.5)"/><rect x="86.22" y="531.83" width="4.10" height="11.17" fill="rgba(239,83,80,0.5)"/><rect x="91.50" y="529.33" width="4.10" height="13.67" fill="rgba(239,83,80,0.5)"/><rect x="96.78" y="476.50" width="4.10" height="66.50" fill="rgba(239,83,80,0.5)"/><rect x="102.07" y="509.33" width="4.10" height="33.67" fill="rgba(38,166,154,0.5)"/><rect x="107.35" y="514.33" width="4.10" height="28.67" fill="rgba(38,166,154,0.5)"/><rect x="112.63" y="526.33" width="4.10" height="16.67" fill="rgba(239,83,80,0.5)"/><rect x="117.92" y="526.33" width="4.10" height="16.67" fill="rgba(38,166,154,0.5)"/><rect x="123.20" y="461.50" width="4.10" height="81.50" fill="rgba(38,166,154,0.5)"/><rect x="128.48" y="500.17" width="4.10" height="42.83" fill="rgba(239,83,80,0.5)"/><rect x="133.77" y="505.17" width="4.10" height="37.83" fill="rgba(239,83,80,0.5)"/><rect x="139.05" y="529.33" width="4.10" height="13.67" fill="rgba(38,166,154,0.5)"/><rect x="144.33" y="486.83" width="4.10" height="56.17" fill="rgba(38,166,154,0.5)"/><rect x="149.62" y="517.33" width="4.10" height="25.67" fill="rgba(38,166,154,0.5)"/><rect x="154.90" y="520.17" width="4.10" height="22.83" fill="rgba(38,166,154,0.5)"/><rect x="160.18" y="521.00" width="4.10" height="22.00" fill="rgba(38,166,154,0.5)"/><rect x="165.47" y="518.17" width="4.10" height="24.83" fill="rgba(38,166,154,0.5)"/><rect x="170.75" y="521.00" width="4.10" height="22.00" fill="rgba(38,166,154,0.5)"/><rect x="176.03" y="528.17" width="4.10" height="14.83" fill="rgba(38,166,154,0.5)"/><rect x="181.32" y="516.33" width="4.10" height="26.67" fill="rgba(38,166,154,0.5)"/><rect x="186.60" y="527.17" width="4.10" height="15.83" fill="rgba(38,166,154,0.5)"/><rect x="191.88" y="533.00" width="4.10" height="10.00" fill="rgba(239,83,80,0.5)"/><rect x="197.17" y="529.33" width="4.10" height="13.67" fill="rgba(38,166,154,0.5)"/><rect x="202.45" y="530.17" width="4.10" height="12.83" fill="rgba(239,83,80,0.5)"/><rect x="207.73" y="534.33" width="4.10" height="8.67" fill="rgba(239,83,80,0.5)"/><rect x="213.02" y="535.17" width="4.10" height="7.83" fill="rgba(38,166,154,0.5)"/><rect x="218.30" y="537.17" width="4.10" height="5.83" fill="rgba(38,166,154,0.5)"/><rect x="223.58" y="532.17" width="4.10" height="10.83" fill="rgba(239,83,80,0.5)"/><rect x="228.87" y="533.00" width="4.10" height="10.00" fill="rgba(239,83,80,0.5)"/><rect x="234.15" y="524.33" width="4.10" height="18.67" fill="rgba(38,166,154,0.5)"/><rect x="239.43" y="531.33" width="4.10" height="11.67" fill="rgba(239,83,80,0.5)"/><rect x="244.72" y="526.33" width="4.10" height="16.67" fill="rgba(38,166,154,0.5)"/><rect x="250.00" y="527.17" width="4.10" height="15.83" fill="rgba(239,83,80,0.5)"/><rect x="255.28" y="520.17" width="4.10" height="22.83" fill="rgba(239,83,80,0.5)"/><rect x="260.57" y="529.33" width="4.10" height="13.67" fill="rgba(239,83,80,0.5)"/><rect x="265.85" y="515.17" width="4.10" height="27.83" fill="rgba(239,83,80,0.5)"/><rect x="271.13" y="530.17" width="4.10" height="12.83" fill="rgba(38,166,154,0.5)"/><rect x="276.42" y="530.17" width="4.10" height="12.83" fill="rgba(239,83,80,0.5)"/><rect x="281.70" y="507.17" width="4.10" height="35.83" fill="rgba(239,83,80,0.5)"/><rect x="286.98" y="520.17" width="4.10" height="22.83" fill="rgba(38,166,154,0.5)"/><rect x="292.27" y="508.17" width="4.10" height="34.83" fill="rgba(239,83,80,0.5)"/><rect x="297.55" y="518.17" width="4.10" height="24.83" fill="rgba(239,83,80,0.5)"/><rect x="302.83" y="447.33" width="4.10" height="95.67" fill="rgba(239,83,80,0.5)"/><rect x="308.12" y="499.33" width="4.10" height="43.67" fill="rgba(38,166,154,0.5)"/><rect x="313.40" y="508.17" width="4.10" height="34.83" fill="rgba(239,83,80,0.5)"/><rect x="318.68" y="516.33" width="4.10" height="26.67" fill="rgba(239,83,80,0.5)"/><rect x="323.97" y="528.17" width="4.10" height="14.83" fill="rgba(38,166,154,0.5)"/><rect x="329.25" y="523.50" width="4.10" height="19.50" fill="rgba(38,166,154,0.5)"/><rect x="334.53" y="525.17" width="4.10" height="17.83" fill="rgba(38,166,154,0.5)"/><rect x="339.82" y="510.17" width="4.10" height="32.83" fill="rgba(239,83,80,0.5)"/><rect x="345.10" y="494.33" width="4.10" height="48.67" fill="rgba(38,166,154,0.5)"/><rect x="350.38" y="510.17" width="4.10" height="32.83" fill="rgba(38,166,154,0.5)"/><rect x="355.67" y="531.33" width="4.10" height="11.67" fill="rgba(38,166,154,0.5)"/><rect x="360.95" y="527.17" width="4.10" height="15.83" fill="rgba(239,83,80,0.5)"/><rect x="366.23" y="519.33" width="4.10" height="23.67" fill="rgba(239,83,80,0.5)"/><rect x="371.51" y="520.17" width="4.10" height="22.83" fill="rgba(38,166,154,0.5)"/><rect x="376.80" y="452.17" width="4.10" height="90.83" fill="rgba(239,83,80,0.5)"/><rect x="382.08" y="494.33" width="4.10" height="48.67" fill="rgba(38,166,154,0.5)"/><rect x="387.36" y="514.33" width="4.10" height="28.67" fill="rgba(239,83,80,0.5)"/><rect x="392.65" y="524.33" width="4.10" height="18.67" fill="rgba(38,166,154,0.5)"/><rect x="397.93" y="489.33" width="4.10" height="53.67" fill="rgba(38,166,154,0.5)"/><rect x="403.21" y="493.17" width="4.10" height="49.83" fill="rgba(38,166,154,0.5)"/><rect x="408.50" y="504.33" width="4.10" height="38.67" fill="rgba(239,83,80,0.5)"/><rect x="413.78" y="504.33" width="4.10" height="38.67" fill="rgba(38,166,154,0.5)"/><rect x="419.06" y="516.33" width="4.10" height="26.67" fill="rgba(239,83,80,0.5)"/><rect x="424.35" y="520.17" width="4.10" height="22.83" fill="rgba(38,166,154,0.5)"/><rect x="429.63" y="531.33" width="4.10" height="11.67" fill="rgba(38,166,154,0.5)"/><rect x="434.91" y="528.17" width="4.10" height="14.83" fill="rgba(38,166,154,0.5)"/><rect x="440.20" y="475.17" width="4.10" height="67.83" fill="rgba(239,83,80,0.5)"/><rect x="445.48" y="521.33" width="4.10" height="21.67" fill="rgba(38,166,154,0.5)"/><rect x="450.76" y="528.17" width="4.10" height="14.83" fill="rgba(38,166,154,0.5)"/><rect x="456.05" y="530.17" width="4.10" height="12.83" fill="rgba(239,83,80,0.5)"/><rect x="461.33" y="538.17" width="4.10" height="4.83" fill="rgba(38,166,154,0.5)"/><rect x="466.61" y="528.17" width="4.10" height="14.83" fill="rgba(38,166,154,0.5)"/><rect x="471.90" y="538.17" width="4.10" height="4.83" fill="rgba(239,83,80,0.5)"/><rect x="477.18" y="515.17" width="4.10" height="27.83" fill="rgba(38,166,154,0.5)"/><rect x="482.46" y="528.17" width="4.10" height="14.83" fill="rgba(239,83,80,0.5)"/><rect x="487.75" y="529.33" width="4.10" height="13.67" fill="rgba(239,83,80,0.5)"/><rect x="493.03" y="531.33" width="4.10" height="11.67" fill="rgba(38,166,154,0.5)"/><rect x="498.31" y="530.17" width="4.10" height="12.83" fill="rgba(239,83,80,0.5)"/><rect x="503.60" y="525.17" width="4.10" height="17.83" fill="rgba(38,166,154,0.5)"/><rect x="508.88" y="530.17" width="4.10" height="12.83" fill="rgba(38,166,154,0.5)"/><rect x="514.16" y="536.33" width="4.10" height="6.67" fill="rgba(239,83,80,0.5)"/><rect x="519.45" y="530.17" width="4.10" height="12.83" fill="rgba(239,83,80,0.5)"/><rect x="524.73" y="534.33" width="4.10" height="8.67" fill="rgba(239,83,80,0.5)"/><rect x="530.01" y="537.17" width="4.10" height="5.83" fill="rgba(38,166,154,0.5)"/><rect x="535.30" y="534.33" width="4.10" height="8.67" fill="rgba(38,166,154,0.5)"/><rect x="540.58" y="531.33" width="4.10" height="11.67" fill="rgba(38,166,154,0.5)"/><rect x="545.86" y="530.17" width="4.10" height="12.83" fill="rgba(239,83,80,0.5)"/><rect x="551.15" y="524.33" width="4.10" height="18.67" fill="rgba(239,83,80,0.5)"/><rect x="556.43" y="528.17" width="4.10" height="14.83" fill="rgba(38,166,154,0.5)"/><rect x="561.71" y="529.33" width="4.10" height="13.67" fill="rgba(38,166,154,0.5)"/><rect x="567.00" y="533.17" width="4.10" height="9.83" fill="rgba(38,166,154,0.5)"/><rect x="572.28" y="513.17" width="4.10" height="29.83" fill="rgba(38,166,154,0.5)"/><rect x="577.56" y="499.33" width="4.10" height="43.67" fill="rgba(239,83,80,0.5)"/><rect x="582.85" y="511.33" width="4.10" height="31.67" fill="rgba(239,83,80,0.5)"/><rect x="588.13" y="524.33" width="4.10" height="18.67" fill="rgba(38,166,154,0.5)"/><rect x="593.41" y="516.33" width="4.10" height="26.67" fill="rgba(239,83,80,0.5)"/><rect x="598.70" y="519.33" width="4.10" height="23.67" fill="rgba(239,83,80,0.5)"/><rect x="603.98" y="514.33" width="4.10" height="28.67" fill="rgba(239,83,80,0.5)"/><rect x="609.26" y="536.33" width="4.10" height="6.67" fill="rgba(239,83,80,0.5)"/><rect x="614.55" y="505.17" width="4.10" height="37.83" fill="rgba(239,83,80,0.5)"/><rect x="619.83" y="495.17" width="4.10" height="47.83" fill="rgba(38,166,154,0.5)"/><rect x="625.11" y="524.33" width="4.10" height="18.67" fill="rgba(239,83,80,0.5)"/><rect x="630.40" y="432.17" width="4.10" height="110.83" fill="rgba(239,83,80,0.5)"/><rect x="635.68" y="496.33" width="4.10" height="46.67" fill="rgba(38,166,154,0.5)"/><rect x="640.96" y="509.33" width="4.10" height="33.67" fill="rgba(239,83,80,0.5)"/><rect x="646.25" y="515.17" width="4.10" height="27.83" fill="rgba(239,83,80,0.5)"/><rect x="651.53" y="508.17" width="4.10" height="34.83" fill="rgba(239,83,80,0.5)"/><rect x="656.81" y="521.33" width="4.10" height="21.67" fill="rgba(38,166,154,0.5)"/><rect x="662.10" y="526.33" width="4.10" height="16.67" fill="rgba(239,83,80,0.5)"/><rect x="667.38" y="509.33" width="4.10" height="33.67" fill="rgba(239,83,80,0.5)"/><rect x="672.66" y="523.17" width="4.10" height="19.83" fill="rgba(38,166,154,0.5)"/><rect x="677.95" y="523.17" width="4.10" height="19.83" fill="rgba(239,83,80,0.5)"/><rect x="683.23" y="532.17" width="4.10" height="10.83" fill="rgba(38,166,154,0.5)"/><rect x="688.51" y="530.17" width="4.10" height="12.83" fill="rgba(239,83,80,0.5)"/><rect x="693.80" y="530.17" width="4.10" height="12.83" fill="rgba(239,83,80,0.5)"/><rect x="699.08" y="530.17" width="4.10" height="12.83" fill="rgba(239,83,80,0.5)"/><rect x="704.36" y="497.17" width="4.10" height="45.83" fill="rgba(239,83,80,0.5)"/><rect x="709.65" y="525.17" width="4.10" height="17.83" fill="rgba(38,166,154,0.5)"/><rect x="714.93" y="534.33" width="4.10" height="8.67" fill="rgba(239,83,80,0.5)"/><rect x="720.21" y="531.33" width="4.10" height="11.67" fill="rgba(38,166,154,0.5)"/><rect x="725.50" y="530.17" width="4.10" height="12.83" fill="rgba(239,83,80,0.5)"/><rect x="730.78" y="521.33" width="4.10" height="21.67" fill="rgba(38,166,154,0.5)"/><rect x="736.06" y="532.17" width="4.10" height="10.83" fill="rgba(38,166,154,0.5)"/><rect x="741.35" y="532.17" width="4.10" height="10.83" fill="rgba(239,83,80,0.5)"/><rect x="746.63" y="536.33" width="4.10" height="6.67" fill="rgba(239,83,80,0.5)"/><rect x="751.91" y="536.33" width="4.10" height="6.67" fill="rgba(38,166,154,0.5)"/><rect x="757.20" y="537.17" width="4.10" height="5.83" fill="rgba(38,166,154,0.5)"/><rect x="762.48" y="532.17" width="4.10" height="10.83" fill="rgba(239,83,80,0.5)"/><rect x="767.76" y="534.33" width="4.10" height="8.67" fill="rgba(38,166,154,0.5)"/><rect x="773.05" y="524.33" width="4.10" height="18.67" fill="rgba(239,83,80,0.5)"/><rect x="778.33" y="532.17" width="4.10" height="10.83" fill="rgba(239,83,80,0.5)"/><rect x="783.61" y="537.17" width="4.10" height="5.83" fill="rgba(38,166,154,0.5)"/><rect x="788.90" y="522.33" width="4.10" height="20.67" fill="rgba(239,83,80,0.5)"/><rect x="794.18" y="536.33" width="4.10" height="6.67" fill="rgba(38,166,154,0.5)"/><rect x="799.46" y="530.17" width="4.10" height="12.83" fill="rgba(38,166,154,0.5)"/><rect x="804.75" y="536.33" width="4.10" height="6.67" fill="rgba(38,166,154,0.5)"/><rect x="810.03" y="533.17" width="4.10" height="9.83" fill="rgba(38,166,154,0.5)"/><rect x="815.31" y="534.33" width="4.10" height="8.67" fill="rgba(239,83,80,0.5)"/><rect x="820.60" y="532.17" width="4.10" height="10.83" fill="rgba(38,166,154,0.5)"/><rect x="825.88" y="536.33" width="4.10" height="6.67" fill="rgba(239,83,80,0.5)"/><rect x="831.16" y="531.33" width="4.10" height="11.67" fill="rgba(239,83,80,0.5)"/><rect x="836.45" y="529.33" width="4.10" height="13.67" fill="rgba(38,166,154,0.5)"/><rect x="841.73" y="418.17" width="4.10" height="124.83" fill="rgba(38,166,154,0.5)"/><rect x="847.01" y="509.33" width="4.10" height="33.67" fill="rgba(38,166,154,0.5)"/><rect x="852.30" y="531.33" width="4.10" height="11.67" fill="rgba(38,166,154,0.5)"/><rect x="857.58" y="529.33" width="4.10" height="13.67" fill="rgba(239,83,80,0.5)"/><rect x="862.86" y="531.33" width="4.10" height="11.67" fill="rgba(38,166,154,0.5)"/><rect x="868.15" y="524.33" width="4.10" height="18.67" fill="rgba(239,83,80,0.5)"/><rect x="873.43" y="520.17" width="4.10" height="22.83" fill="rgba(38,166,154,0.5)"/><rect x="878.71" y="530.17" width="4.10" height="12.83" fill="rgba(239,83,80,0.5)"/><rect x="884.00" y="510.17" width="4.10" height="32.83" fill="rgba(239,83,80,0.5)"/><rect x="889.28" y="489.33" width="4.10" height="53.67" fill="rgba(239,83,80,0.5)"/><rect x="894.56" y="500.17" width="4.10" height="42.83" fill="rgba(38,166,154,0.5)"/><rect x="899.85" y="519.33" width="4.10" height="23.67" fill="rgba(239,83,80,0.5)"/><rect x="905.13" y="463.17" width="4.10" height="79.83" fill="rgba(239,83,80,0.5)"/><rect x="910.41" y="481.33" width="4.10" height="61.67" fill="rgba(239,83,80,0.5)"/><rect x="915.69" y="496.33" width="4.10" height="46.67" fill="rgba(38,166,154,0.5)"/><rect x="920.98" y="511.33" width="4.10" height="31.67" fill="rgba(239,83,80,0.5)"/><rect x="926.26" y="524.33" width="4.10" height="18.67" fill="rgba(239,83,80,0.5)"/><rect x="931.54" y="513.17" width="4.10" height="29.83" fill="rgba(239,83,80,0.5)"/><rect x="936.83" y="517.33" width="4.10" height="25.67" fill="rgba(38,166,154,0.5)"/><rect x="942.11" y="503.17" width="4.10" height="39.83" fill="rgba(239,83,80,0.5)"/><rect x="947.39" y="516.33" width="4.10" height="26.67" fill="rgba(239,83,80,0.5)"/><rect x="952.68" y="528.17" width="4.10" height="14.83" fill="rgba(239,83,80,0.5)"/><rect x="957.96" y="491.33" width="4.10" height="51.67" fill="rgba(239,83,80,0.5)"/><rect x="963.24" y="518.17" width="4.10" height="24.83" fill="rgba(38,166,154,0.5)"/><rect x="968.53" y="528.17" width="4.10" height="14.83" fill="rgba(38,166,154,0.5)"/><rect x="973.81" y="512.33" width="4.10" height="30.67" fill="rgba(239,83,80,0.5)"/><rect x="979.09" y="513.17" width="4.10" height="29.83" fill="rgba(239,83,80,0.5)"/><rect x="984.38" y="518.17" width="4.10" height="24.83" fill="rgba(38,166,154,0.5)"/><rect x="989.66" y="530.17" width="4.10" height="12.83" fill="rgba(239,83,80,0.5)"/><rect x="994.94" y="521.33" width="4.10" height="21.67" fill="rgba(239,83,80,0.5)"/><rect x="1000.23" y="515.17" width="4.10" height="27.83" fill="rgba(38,166,154,0.5)"/><rect x="1005.51" y="500.17" width="4.10" height="42.83" fill="rgba(38,166,154,0.5)"/><rect x="1010.79" y="527.17" width="4.10" height="15.83" fill="rgba(239,83,80,0.5)"/><rect x="1016.08" y="533.17" width="4.10" height="9.83" fill="rgba(239,83,80,0.5)"/><rect x="1021.36" y="529.33" width="4.10" height="13.67" fill="rgba(38,166,154,0.5)"/><rect x="1026.64" y="530.17" width="4.10" height="12.83" fill="rgba(239,83,80,0.5)"/><rect x="1031.93" y="526.33" width="4.10" height="16.67" fill="rgba(239,83,80,0.5)"/><rect x="1037.21" y="528.17" width="4.10" height="14.83" fill="rgba(239,83,80,0.5)"/><rect x="1042.49" y="521.33" width="4.10" height="21.67" fill="rgba(239,83,80,0.5)"/><rect x="1047.78" y="526.33" width="4.10" height="16.67" fill="rgba(38,166,154,0.5)"/><rect x="1053.06" y="528.17" width="4.10" height="14.83" fill="rgba(239,83,80,0.5)"/><rect x="1058.34" y="523.17" width="4.10" height="19.83" fill="rgba(239,83,80,0.5)"/><rect x="1063.63" y="490.17" width="4.10" height="52.83" fill="rgba(239,83,80,0.5)"/><rect x="1068.91" y="472.17" width="4.10" height="70.83" fill="rgba(239,83,80,0.5)"/><rect x="1074.19" y="477.17" width="4.10" height="65.83" fill="rgba(239,83,80,0.5)"/><rect x="1079.48" y="461.33" width="4.10" height="81.67" fill="rgba(239,83,80,0.5)"/><rect x="1084.76" y="473.17" width="4.10" height="69.83" fill="rgba(239,83,80,0.5)"/><rect x="1090.04" y="493.17" width="4.10" height="49.83" fill="rgba(38,166,154,0.5)"/><rect x="1095.33" y="500.17" width="4.10" height="42.83" fill="rgba(38,166,154,0.5)"/><rect x="1100.61" y="500.17" width="4.10" height="42.83" fill="rgba(239,83,80,0.5)"/><rect x="1105.89" y="508.17" width="4.10" height="34.83" fill="rgba(38,166,154,0.5)"/><rect x="1111.18" y="456.33" width="4.10" height="86.67" fill="rgba(38,166,154,0.5)"/><rect x="1116.46" y="516.33" width="4.10" height="26.67" fill="rgba(239,83,80,0.5)"/><rect x="1121.74" y="520.17" width="4.10" height="22.83" fill="rgba(239,83,80,0.5)"/><rect x="1127.03" y="519.33" width="4.10" height="23.67" fill="rgba(239,83,80,0.5)"/><rect x="1132.31" y="502.17" width="4.10" height="40.83" fill="rgba(239,83,80,0.5)"/><rect x="1137.59" y="434.33" width="4.10" height="108.67" fill="rgba(239,83,80,0.5)"/><rect x="1142.88" y="469.33" width="4.10" height="73.67" fill="rgba(239,83,80,0.5)"/><rect x="1148.16" y="438.17" width="4.10" height="104.83" fill="rgba(38,166,154,0.5)"/><rect x="1153.44" y="500.17" width="4.10" height="42.83" fill="rgba(38,166,154,0.5)"/><rect x="1158.73" y="493.17" width="4.10" height="49.83" fill="rgba(38,166,154,0.5)"/><rect x="1164.01" y="462.17" width="4.10" height="80.83" fill="rgba(239,83,80,0.5)"/><rect x="1169.29" y="492.17" width="4.10" height="50.83" fill="rgba(239,83,80,0.5)"/><rect x="1174.58" y="517.33" width="4.10" height="25.67" fill="rgba(239,83,80,0.5)"/><rect x="1179.86" y="506.33" width="4.10" height="36.67" fill="rgba(38,166,154,0.5)"/><rect x="1185.14" y="504.33" width="4.10" height="38.67" fill="rgba(38,166,154,0.5)"/><rect x="1190.43" y="494.33" width="4.10" height="48.67" fill="rgba(239,83,80,0.5)"/><rect x="1195.71" y="529.33" width="4.10" height="13.67" fill="rgba(239,83,80,0.5)"/><rect x="1200.99" y="523.17" width="4.10" height="19.83" fill="rgba(239,83,80,0.5)"/><rect x="1206.28" y="514.33" width="4.10" height="28.67" fill="rgba(38,166,154,0.5)"/><rect x="1211.56" y="520.17" width="4.10" height="22.83" fill="rgba(38,166,154,0.5)"/><rect x="1216.84" y="501.33" width="4.10" height="41.67" fill="rgba(38,166,154,0.5)"/><rect x="1222.13" y="530.17" width="4.10" height="12.83" fill="rgba(38,166,154,0.5)"/><rect x="1227.41" y="533.17" width="4.10" height="9.83" fill="rgba(239,83,80,0.5)"/><rect x="1232.69" y="521.33" width="4.10" height="21.67" fill="rgba(239,83,80,0.5)"/><rect x="1237.98" y="531.33" width="4.10" height="11.67" fill="rgba(239,83,80,0.5)"/><rect x="1243.26" y="518.17" width="4.10" height="24.83" fill="rgba(38,166,154,0.5)"/><rect x="1248.54" y="525.17" width="4.10" height="17.83" fill="rgba(38,166,154,0.5)"/><rect x="1253.83" y="532.67" width="4.10" height="10.33" fill="rgba(239,83,80,0.5)"/><rect x="1259.11" y="530.17" width="4.10" height="12.83" fill="rgba(38,166,154,0.5)"/><rect x="1264.39" y="532.17" width="4.10" height="10.83" fill="rgba(239,83,80,0.5)"/><rect x="1269.68" y="528.17" width="4.10" height="14.83" fill="rgba(38,166,154,0.5)"/><rect x="1274.96" y="528.17" width="4.10" height="14.83" fill="rgba(239,83,80,0.5)"/><rect x="1280.24" y="532.67" width="4.10" height="10.33" fill="rgba(38,166,154,0.5)"/><rect x="1285.53" y="532.67" width="4.10" height="10.33" fill="rgba(38,166,154,0.5)"/><rect x="1290.81" y="532.17" width="4.10" height="10.83" fill="rgba(239,83,80,0.5)"/><rect x="1296.09" y="529.33" width="4.10" height="13.67" fill="rgba(239,83,80,0.5)"/><rect x="1301.38" y="537.17" width="4.10" height="5.83" fill="rgba(38,166,154,0.5)"/><rect x="1306.66" y="531.33" width="4.10" height="11.67" fill="rgba(38,166,154,0.5)"/><rect x="1311.94" y="534.33" width="4.10" height="8.67" fill="rgba(239,83,80,0.5)"/><rect x="1317.23" y="523.17" width="4.10" height="19.83" fill="rgba(239,83,80,0.5)"/><rect x="1322.51" y="505.17" width="4.10" height="37.83" fill="rgba(38,166,154,0.5)"/><rect x="1327.79" y="525.17" width="4.10" height="17.83" fill="rgba(239,83,80,0.5)"/><rect x="1333.08" y="530.17" width="4.10" height="12.83" fill="rgba(38,166,154,0.5)"/><rect x="1338.36" y="530.17" width="4.10" height="12.83" fill="rgba(239,83,80,0.5)"/><rect x="1343.64" y="528.17" width="4.10" height="14.83" fill="rgba(38,166,154,0.5)"/><rect x="1348.93" y="529.33" width="4.10" height="13.67" fill="rgba(38,166,154,0.5)"/><rect x="1354.21" y="533.00" width="4.10" height="10.00" fill="rgba(239,83,80,0.5)"/><rect x="1359.49" y="525.17" width="4.10" height="17.83" fill="rgba(38,166,154,0.5)"/><rect x="1364.78" y="530.17" width="4.10" height="12.83" fill="rgba(239,83,80,0.5)"/><rect x="1370.06" y="533.00" width="4.10" height="10.00" fill="rgba(38,166,154,0.5)"/><rect x="1375.34" y="526.33" width="4.10" height="16.67" fill="rgba(239,83,80,0.5)"/><rect x="1380.63" y="530.17" width="4.10" height="12.83" fill="rgba(239,83,80,0.5)"/><rect x="1385.91" y="527.17" width="4.10" height="15.83" fill="rgba(239,83,80,0.5)"/><rect x="1391.19" y="526.33" width="4.10" height="16.67" fill="rgba(239,83,80,0.5)"/><rect x="1396.48" y="521.33" width="4.10" height="21.67" fill="rgba(38,166,154,0.5)"/><rect x="1401.76" y="527.17" width="4.10" height="15.83" fill="rgba(38,166,154,0.5)"/><rect x="1407.04" y="534.33" width="4.10" height="8.67" fill="rgba(239,83,80,0.5)"/><rect x="1412.33" y="533.00" width="4.10" height="10.00" fill="rgba(38,166,154,0.5)"/><rect x="1417.61" y="531.33" width="4.10" height="11.67" fill="rgba(239,83,80,0.5)"/><rect x="1422.89" y="515.17" width="4.10" height="27.83" fill="rgba(38,166,154,0.5)"/><rect x="1428.17" y="526.33" width="4.10" height="16.67" fill="rgba(38,166,154,0.5)"/><rect x="1433.46" y="523.17" width="4.10" height="19.83" fill="rgba(38,166,154,0.5)"/><rect x="1438.74" y="530.17" width="4.10" height="12.83" fill="rgba(38,166,154,0.5)"/><rect x="1444.02" y="530.17" width="4.10" height="12.83" fill="rgba(38,166,154,0.5)"/><rect x="1449.31" y="534.33" width="4.10" height="8.67" fill="rgba(38,166,154,0.5)"/><rect x="1454.59" y="521.33" width="4.10" height="21.67" fill="rgba(38,166,154,0.5)"/><rect x="1459.87" y="512.33" width="4.10" height="30.67" fill="rgba(38,166,154,0.5)"/><rect x="1465.16" y="516.33" width="4.10" height="26.67" fill="rgba(239,83,80,0.5)"/><rect x="1470.44" y="530.17" width="4.10" height="12.83" fill="rgba(239,83,80,0.5)"/><rect x="1475.72" y="534.33" width="4.10" height="8.67" fill="rgba(239,83,80,0.5)"/><rect x="1481.01" y="535.17" width="4.10" height="7.83" fill="rgba(38,166,154,0.5)"/><rect x="1486.29" y="533.00" width="4.10" height="10.00" fill="rgba(239,83,80,0.5)"/><rect x="1491.57" y="536.33" width="4.10" height="6.67" fill="rgba(239,83,80,0.5)"/><rect x="1496.86" y="537.17" width="4.10" height="5.83" fill="rgba(38,166,154,0.5)"/><rect x="1502.14" y="531.33" width="4.10" height="11.67" fill="rgba(239,83,80,0.5)"/><rect x="1507.42" y="527.17" width="4.10" height="15.83" fill="rgba(239,83,80,0.5)"/><rect x="1512.71" y="533.00" width="4.10" height="10.00" fill="rgba(38,166,154,0.5)"/><rect x="1517.99" y="537.17" width="4.10" height="5.83" fill="rgba(239,83,80,0.5)"/><rect x="1523.27" y="533.00" width="4.10" height="10.00" fill="rgba(239,83,80,0.5)"/><rect x="1528.56" y="531.33" width="4.10" height="11.67" fill="rgba(239,83,80,0.5)"/><rect x="1533.84" y="528.17" width="4.10" height="14.83" fill="rgba(38,166,154,0.5)"/><rect x="1539.12" y="530.17" width="4.10" height="12.83" fill="rgba(38,166,154,0.5)"/><rect x="1544.41" y="530.17" width="4.10" height="12.83" fill="rgba(38,166,154,0.5)"/><rect x="1549.69" y="536.33" width="4.10" height="6.67" fill="rgba(239,83,80,0.5)"/><rect x="1554.97" y="535.17" width="4.10" height="7.83" fill="rgba(38,166,154,0.5)"/><rect x="1560.26" y="534.33" width="4.10" height="8.67" fill="rgba(239,83,80,0.5)"/><rect x="1565.54" y="536.33" width="4.10" height="6.67" fill="rgba(239,83,80,0.5)"/><rect x="1570.82" y="536.33" width="4.10" height="6.67" fill="rgba(239,83,80,0.5)"/><rect x="1576.11" y="537.17" width="4.10" height="5.83" fill="rgba(239,83,80,0.5)"/><rect x="1581.39" y="536.33" width="4.10" height="6.67" fill="rgba(38,166,154,0.5)"/><rect x="1586.67" y="480.17" width="4.10" height="62.83" fill="rgba(239,83,80,0.5)"/><rect x="1591.96" y="527.17" width="4.10" height="15.83" fill="rgba(239,83,80,0.5)"/><rect x="1597.24" y="518.17" width="4.10" height="24.83" fill="rgba(239,83,80,0.5)"/><rect x="1602.52" y="478.17" width="4.10" height="64.83" fill="rgba(38,166,154,0.5)"/><rect x="1607.81" y="511.33" width="4.10" height="31.67" fill="rgba(38,166,154,0.5)"/><rect x="1613.09" y="512.33" width="4.10" height="30.67" fill="rgba(38,166,154,0.5)"/><rect x="1618.37" y="509.33" width="4.10" height="33.67" fill="rgba(38,166,154,0.5)"/><rect x="1623.66" y="530.17" width="4.10" height="12.83" fill="rgba(38,166,154,0.5)"/><rect x="1628.94" y="521.33" width="4.10" height="21.67" fill="rgba(239,83,80,0.5)"/><rect x="1634.22" y="530.17" width="4.10" height="12.83" fill="rgba(38,166,154,0.5)"/><rect x="1639.51" y="532.17" width="4.10" height="10.83" fill="rgba(38,166,154,0.5)"/><rect x="1644.79" y="508.17" width="4.10" height="34.83" fill="rgba(38,166,154,0.5)"/><rect x="1650.07" y="501.33" width="4.10" height="41.67" fill="rgba(38,166,154,0.5)"/><rect x="1655.36" y="506.33" width="4.10" height="36.67" fill="rgba(38,166,154,0.5)"/><rect x="1660.64" y="528.17" width="4.10" height="14.83" fill="rgba(239,83,80,0.5)"/><rect x="1665.92" y="535.17" width="4.10" height="7.83" fill="rgba(38,166,154,0.5)"/><rect x="1671.21" y="529.33" width="4.10" height="13.67" fill="rgba(239,83,80,0.5)"/><rect x="1676.49" y="518.17" width="4.10" height="24.83" fill="rgba(38,166,154,0.5)"/><rect x="1681.77" y="507.17" width="4.10" height="35.83" fill="rgba(38,166,154,0.5)"/><rect x="1687.06" y="533.00" width="4.10" height="10.00" fill="rgba(239,83,80,0.5)"/><rect x="1692.34" y="527.17" width="4.10" height="15.83" fill="rgba(38,166,154,0.5)"/><rect x="1697.62" y="534.33" width="4.10" height="8.67" fill="rgba(38,166,154,0.5)"/><rect x="1702.91" y="534.33" width="4.10" height="8.67" fill="rgba(38,166,154,0.5)"/><rect x="1708.19" y="536.33" width="4.10" height="6.67" fill="rgba(239,83,80,0.5)"/><rect x="1713.47" y="536.33" width="4.10" height="6.67" fill="rgba(38,166,154,0.5)"/><rect x="1718.76" y="535.17" width="4.10" height="7.83" fill="rgba(38,166,154,0.5)"/><rect x="1724.04" y="510.17" width="4.10" height="32.83" fill="rgba(239,83,80,0.5)"/><rect x="1729.32" y="527.17" width="4.10" height="15.83" fill="rgba(239,83,80,0.5)"/><rect x="1734.61" y="523.17" width="4.10" height="19.83" fill="rgba(38,166,154,0.5)"/><rect x="1739.89" y="536.33" width="4.10" height="6.67" fill="rgba(38,166,154,0.5)"/><rect x="1745.17" y="535.17" width="4.10" height="7.83" fill="rgba(239,83,80,0.5)"/><rect x="1750.46" y="538.17" width="4.10" height="4.83" fill="rgba(239,83,80,0.5)"/><rect x="1755.74" y="541.83" width="4.10" height="1.17" fill="rgba(239,83,80,0.5)"/></svg>
<div style="position:absolute;left:66px;top:46px;width:330px;height:24px;background:rgba(255,255,255,0.5);"></div>
<div style="position:absolute;left:66px;top:70px;width:112px;height:24px;background:rgba(255,255,255,0.5);"></div>
<div style="position:absolute;left:66px;top:94px;width:1736px;height:24px;background:rgba(255,255,255,0.5);"></div>
<div style="position:absolute;left:71px;top:48px;width:12.5px;height:12.5px;border-radius:50%;background:#17a398"></div>
<svg style="position:absolute;left:71px;top:48px" width="13" height="13" viewBox="0 0 13 13" fill="none" stroke="#fff" stroke-width="1.100" stroke-linecap="round"><path d="M5 4.200h3.600M8.600 4.200c.6 2.200-.6 4.200-3 4.800"/></svg>
<div style="position:absolute;left:65.500px;top:55px;width:11.800px;height:11.800px;border-radius:50%;background:#9896f1;border:1.200px solid #fff"></div>
<svg style="position:absolute;left:65.500px;top:54.500px" width="12" height="12" viewBox="0 0 12 12" fill="none" stroke="#e8e8ff" stroke-width="0.900"><path d="M3.500 6.800v-1a2.500 2.500 0 0 1 5 0v1"/></svg>
<div style="position:absolute;left:87.5px;top:47.00px;line-height:22px;font-size:16px;color:#131722;white-space:pre;">AAVEUSDT Perpetual Contract</div>
<div style="position:absolute;left:313.8px;top:47.00px;line-height:22px;font-size:16px;color:#131722;white-space:pre;">·</div>
<div style="position:absolute;left:322.3px;top:47.00px;line-height:22px;font-size:16px;color:#131722;white-space:pre;">30</div>
<div style="position:absolute;left:344.3px;top:47.00px;line-height:22px;font-size:16px;color:#131722;white-space:pre;">·</div>
<div style="position:absolute;left:352px;top:47.00px;line-height:22px;font-size:16px;color:#131722;white-space:pre;">Bybit</div>
<div style="position:absolute;left:394.500px;top:49px;width:18px;height:18px;border-radius:50%;background:#d8f0ec"></div>
<div style="position:absolute;left:399.300px;top:53.800px;width:8.400px;height:8.400px;border-radius:50%;background:#089981"></div>
<div style="position:absolute;left:421.2px;top:49.00px;line-height:19px;font-size:13px;color:#131722;white-space:pre;">O</div>
<div style="position:absolute;left:432.5px;top:49.00px;line-height:19px;font-size:13px;color:#f23645;white-space:pre;">222.33</div>
<div style="position:absolute;left:477.6px;top:49.00px;line-height:19px;font-size:13px;color:#131722;white-space:pre;">H</div>
<div style="position:absolute;left:488.7px;top:49.00px;line-height:19px;font-size:13px;color:#f23645;white-space:pre;">222.42</div>
<div style="position:absolute;left:534.5px;top:49.00px;line-height:19px;font-size:13px;color:#131722;white-space:pre;">L</div>
<div style="position:absolute;left:542.5px;top:49.00px;line-height:19px;font-size:13px;color:#f23645;white-space:pre;">221.33</div>
<div style="position:absolute;left:588px;top:49.00px;line-height:19px;font-size:13px;color:#131722;white-space:pre;">C</div>
<div style="position:absolute;left:598.7px;top:49.00px;line-height:19px;font-size:13px;color:#f23645;white-space:pre;">221.56</div>
<div style="position:absolute;left:645px;top:49.00px;line-height:19px;font-size:13px;color:#f23645;white-space:pre;">−0.77 (−0.35%)</div>
<div style="position:absolute;left:65.6px;top:72.50px;line-height:19px;font-size:13px;color:#131722;white-space:pre;">Vol · AAVE</div>
<div style="position:absolute;left:136px;top:72.50px;line-height:19px;font-size:13px;color:#ef5350;white-space:pre;letter-spacing:-0.2px;">2.07 K</div>
<div style="position:absolute;left:65.6px;top:96.70px;line-height:19px;font-size:13px;color:#131722;white-space:pre;letter-spacing:-0.18px;">THE DEAD ZON…</div>
<div style="position:absolute;left:179.300px;top:94px;width:1604.700px;height:24px;overflow:hidden;-webkit-mask-image:linear-gradient(90deg,#000 0,#000 1597.700px,transparent 1603.700px);mask-image:linear-gradient(90deg,#000 0,#000 1597.700px,transparent 1603.700px)"><div style="position:absolute;left:0;top:2.7px;line-height:19px;font-size:13px;word-spacing:0.41px;color:#131722;white-space:pre">5.0.3 @ 0.0.1 www.davidd.tech discord.gg/daviddtech t.me/DaviddTech NORMAL R:R ATR 0.5 1.6 2.8 1.6 2.8 100 200 100 200 close close 50 60 1.7 1.8 9 1 3.5 Source open high 14 Keltner After Hit TP 2 15 3 3 1 20 20 20 20 Percent 5 20 20 20 100 0.5 Dynamic Algo ATR 0.5 1.5 2</div></div>
<div style="position:absolute;left:1787px;top:97px;width:18px;height:18px;border-radius:50%;background:#dbe4fd"></div>
<svg style="position:absolute;left:1787px;top:97px" width="18" height="18" viewBox="0 0 18 18" fill="none" stroke="#2962ff" stroke-width="1.200" stroke-linecap="round" stroke-linejoin="round"><path d="M6.300 3.500v5.200M3.800 6.300l2.500 2.500 2.500-2.500" transform="translate(0,-1)"/><path d="M11.700 14.500V9.300M9.200 11.700l2.500-2.500 2.500 2.500" transform="translate(0,1)"/></svg>
<div style="position:absolute;left:64.500px;top:121px;width:28px;height:21px;border-radius:4px;background:rgba(255,255,255,0.72);border:1px solid #e3e3e3"></div>
<svg style="position:absolute;left:72px;top:126px;" width="14" height="12" viewBox="0 0 14 12" fill="none" stroke="#0f0f0f" stroke-width="1.15" stroke-linecap="round" stroke-linejoin="round"><path d="M3.300 7.800L7 4.300l3.700 3.500"/></svg>
<svg style="position:absolute;left:60px;top:508px" width="46" height="28" viewBox="60 508 46 28"><path d="M66 512H100.600L93 531H72V522H66z" fill="#fff"/><g fill="#0f0f0f" stroke="#fff" stroke-width="4" stroke-linejoin="miter" paint-order="stroke"><path d="M68 514.200H79.800V528.750H74V519.800H68z"/><circle cx="84.900" cy="517" r="2.700"/><path d="M91.400 514.200H97.700L91.800 528.750H85.200z"/></g></svg>
<div style="position:absolute;left:1822.3px;top:94.00px;line-height:18px;font-size:12px;color:#131722;white-space:pre;">117.50</div>
<div style="position:absolute;left:1822.3px;top:130.20px;line-height:18px;font-size:12px;color:#131722;white-space:pre;">115.00</div>
<div style="position:absolute;left:1822.3px;top:166.40px;line-height:18px;font-size:12px;color:#131722;white-space:pre;">112.50</div>
<div style="position:absolute;left:1822.3px;top:202.60px;line-height:18px;font-size:12px;color:#131722;white-space:pre;">110.00</div>
<div style="position:absolute;left:1822.3px;top:238.80px;line-height:18px;font-size:12px;color:#131722;white-space:pre;">107.50</div>
<div style="position:absolute;left:1822.3px;top:275.00px;line-height:18px;font-size:12px;color:#131722;white-space:pre;">105.00</div>
<div style="position:absolute;left:1822.3px;top:311.20px;line-height:18px;font-size:12px;color:#131722;white-space:pre;">102.50</div>
<div style="position:absolute;left:1822.3px;top:347.40px;line-height:18px;font-size:12px;color:#131722;white-space:pre;">100.00</div>
<div style="position:absolute;left:1822.3px;top:383.60px;line-height:18px;font-size:12px;color:#131722;white-space:pre;">97.50</div>
<div style="position:absolute;left:1822.3px;top:419.80px;line-height:18px;font-size:12px;color:#131722;white-space:pre;">95.00</div>
<div style="position:absolute;left:1822.3px;top:456.00px;line-height:18px;font-size:12px;color:#131722;white-space:pre;">92.50</div>
<div style="position:absolute;left:1822.3px;top:492.20px;line-height:18px;font-size:12px;color:#131722;white-space:pre;">90.00</div>
<div style="position:absolute;left:1817.500px;top:46px;width:49px;height:25.500px;border-radius:4px;background:#fff;border:1px solid #ebebeb"></div>
<div style="position:absolute;left:1821.3px;top:49.50px;line-height:18px;font-size:12px;color:#131722;white-space:pre;">USDT</div>
<svg style="position:absolute;left:1855.5px;top:55px;" width="8" height="8" viewBox="0 0 8 8" fill="none" stroke="#0f0f0f" stroke-width="1.15" stroke-linecap="round" stroke-linejoin="round"><path d="M2 3.100L4 5l2-1.900" stroke-width="1.300"/></svg>
<div style="position:absolute;left:1814px;top:527px;width:47px;height:16px;background:#ef5350;border-radius:2px 2px 0 0;"></div>
<div style="position:absolute;left:1822.5px;top:526.50px;line-height:18px;font-size:12px;color:#fff;white-space:pre;">2.07 K</div>
<svg style="position:absolute;left:1746px;top:518px" width="25" height="25" viewBox="0 0 25 25" fill="none"><circle cx="12.400" cy="12.500" r="9.800" fill="#fff" stroke="#9c27b0" stroke-width="1.300"/><path d="M14.500 6.300l-5.700 7h3.600l-1.700 5.300 5.800-7.200h-3.600z" fill="#9c27b0"/></svg>
<div style="position:absolute;left:-390.3px;width:1000px;text-align:center;top:548.00px;line-height:18px;font-size:12px;color:#131722;white-space:pre;">12:00</div>
<div style="position:absolute;left:-326.91999999999996px;width:1000px;text-align:center;top:548.00px;line-height:18px;font-size:12px;color:#131722;white-space:pre;">18:00</div>
<div style="position:absolute;left:-263.53999999999996px;width:1000px;text-align:center;top:548.00px;line-height:18px;font-size:12px;color:#131722;white-space:pre;">14</div>
<div style="position:absolute;left:-200.15999999999997px;width:1000px;text-align:center;top:548.00px;line-height:18px;font-size:12px;color:#131722;white-space:pre;">06:00</div>
<div style="position:absolute;left:-136.77999999999997px;width:1000px;text-align:center;top:548.00px;line-height:18px;font-size:12px;color:#131722;white-space:pre;">12:00</div>
<div style="position:absolute;left:-73.39999999999998px;width:1000px;text-align:center;top:548.00px;line-height:18px;font-size:12px;color:#131722;white-space:pre;">18:00</div>
<div style="position:absolute;left:-10.019999999999982px;width:1000px;text-align:center;top:548.00px;line-height:18px;font-size:12px;color:#131722;white-space:pre;">15</div>
<div style="position:absolute;left:53.360000000000014px;width:1000px;text-align:center;top:548.00px;line-height:18px;font-size:12px;color:#131722;white-space:pre;">06:00</div>
<div style="position:absolute;left:116.74000000000001px;width:1000px;text-align:center;top:548.00px;line-height:18px;font-size:12px;color:#131722;white-space:pre;">12:00</div>
<div style="position:absolute;left:180.12000000000012px;width:1000px;text-align:center;top:548.00px;line-height:18px;font-size:12px;color:#131722;white-space:pre;">18:00</div>
<div style="position:absolute;left:243.5000000000001px;width:1000px;text-align:center;top:548.00px;line-height:18px;font-size:12px;color:#131722;white-space:pre;">16</div>
<div style="position:absolute;left:306.8800000000001px;width:1000px;text-align:center;top:548.00px;line-height:18px;font-size:12px;color:#131722;white-space:pre;">06:00</div>
<div style="position:absolute;left:370.2600000000001px;width:1000px;text-align:center;top:548.00px;line-height:18px;font-size:12px;color:#131722;white-space:pre;">12:00</div>
<div style="position:absolute;left:433.6400000000001px;width:1000px;text-align:center;top:548.00px;line-height:18px;font-size:12px;color:#131722;white-space:pre;">18:00</div>
<div style="position:absolute;left:497.0200000000001px;width:1000px;text-align:center;top:548.00px;line-height:18px;font-size:12px;color:#131722;white-space:pre;">17</div>
<div style="position:absolute;left:560.4000000000001px;width:1000px;text-align:center;top:548.00px;line-height:18px;font-size:12px;color:#131722;white-space:pre;">06:00</div>
<div style="position:absolute;left:623.78px;width:1000px;text-align:center;top:548.00px;line-height:18px;font-size:12px;color:#131722;white-space:pre;">12:00</div>
<div style="position:absolute;left:687.1600000000001px;width:1000px;text-align:center;top:548.00px;line-height:18px;font-size:12px;color:#131722;white-space:pre;">18:00</div>
<div style="position:absolute;left:750.5400000000002px;width:1000px;text-align:center;top:548.00px;line-height:18px;font-size:12px;color:#131722;white-space:pre;">18</div>
<div style="position:absolute;left:813.9200000000001px;width:1000px;text-align:center;top:548.00px;line-height:18px;font-size:12px;color:#131722;white-space:pre;">06:00</div>
<div style="position:absolute;left:877.3000000000002px;width:1000px;text-align:center;top:548.00px;line-height:18px;font-size:12px;color:#131722;white-space:pre;">12:00</div>
<div style="position:absolute;left:940.6800000000001px;width:1000px;text-align:center;top:548.00px;line-height:18px;font-size:12px;color:#131722;white-space:pre;">18:00</div>
<div style="position:absolute;left:1004.0600000000002px;width:1000px;text-align:center;top:548.00px;line-height:18px;font-size:12px;color:#131722;white-space:pre;">19</div>
<div style="position:absolute;left:1067.44px;width:1000px;text-align:center;top:548.00px;line-height:18px;font-size:12px;color:#131722;white-space:pre;">06:00</div>
<div style="position:absolute;left:1130.8200000000002px;width:1000px;text-align:center;top:548.00px;line-height:18px;font-size:12px;color:#131722;white-space:pre;">12:00</div>
<div style="position:absolute;left:1194.2px;width:1000px;text-align:center;top:548.00px;line-height:18px;font-size:12px;color:#131722;white-space:pre;">18:00</div>
<div style="position:absolute;left:1257.5800000000002px;width:1000px;text-align:center;top:548.00px;line-height:18px;font-size:12px;font-weight:700;color:#131722;white-space:pre;">20</div>
<svg style="position:absolute;left:1831px;top:546px;" width="24" height="24" viewBox="0 0 24 24" fill="none" stroke="#0f0f0f" stroke-width="1.15" stroke-linecap="round" stroke-linejoin="round"><path d="M8.200 5.950h6.600l3.300 6.250-3.300 6.250H8.200l-3.300-6.250z" stroke-width="1.200"/><circle cx="11.500" cy="12.200" r="2.100" stroke-width="1.200"/></svg>
<div style="position:absolute;left:56px;top:571px;width:1815px;height:1px;background:#ebebeb;"></div>
<div style="position:absolute;left:70px;top:581.00px;line-height:20px;font-size:14px;color:#0f0f0f;white-space:pre;">1D</div>
<div style="position:absolute;left:100px;top:581.00px;line-height:20px;font-size:14px;color:#0f0f0f;white-space:pre;">5D</div>
<div style="position:absolute;left:130px;top:581.00px;line-height:20px;font-size:14px;color:#0f0f0f;white-space:pre;">1M</div>
<div style="position:absolute;left:161.2px;top:581.00px;line-height:20px;font-size:14px;color:#0f0f0f;white-space:pre;">3M</div>
<div style="position:absolute;left:192.5px;top:581.00px;line-height:20px;font-size:14px;color:#0f0f0f;white-space:pre;">6M</div>
<div style="position:absolute;left:224px;top:581.00px;line-height:20px;font-size:14px;color:#0f0f0f;white-space:pre;">YTD</div>
<div style="position:absolute;left:264px;top:581.00px;line-height:20px;font-size:14px;color:#0f0f0f;white-space:pre;">1Y</div>
<div style="position:absolute;left:293px;top:581.00px;line-height:20px;font-size:14px;color:#0f0f0f;white-space:pre;">All</div>
<div style="position:absolute;left:319px;top:580px;width:1px;height:22px;background:#e6e6e6;"></div>
<svg style="position:absolute;left:331px;top:579px;" width="24" height="24" viewBox="0 0 24 24" fill="none" stroke="#0f0f0f" stroke-width="1.15" stroke-linecap="round" stroke-linejoin="round"><path d="M7 2.500v3.200M16.500 2.500v3.200M2.800 11.500V6.600a2 2 0 0 1 2-2h14a2 2 0 0 1 2 2v12.600a2 2 0 0 1-2 2H13M2.800 8.800h18M2.500 16.300h8M7.500 13l3.300 3.300-3.300 3.300"/></svg>
<div style="position:absolute;right:59px;top:581.00px;line-height:20px;font-size:14px;color:#0f0f0f;white-space:pre;">00:04:03 UTC</div>
<div style="position:absolute;left:72px;top:622.50px;line-height:20px;font-size:14px;color:#0f0f0f;white-space:pre;">Pine Editor</div>
<div style="position:absolute;left:162px;top:616.200px;width:114px;height:33.300px;border-radius:6px;background:#ebebeb"></div>
<div style="position:absolute;left:172.5px;top:622.50px;line-height:20px;font-size:14px;color:#0f0f0f;white-space:pre;">Strategy Tester</div>
<div style="position:absolute;left:299px;top:622.50px;line-height:20px;font-size:14px;color:#0f0f0f;white-space:pre;">Trading Panel</div>
<div style="position:absolute;left:56px;top:652px;width:1815px;height:1px;background:#ebebeb;"></div>
<svg style="position:absolute;left:1806px;top:622px;" width="22" height="22" viewBox="0 0 22 22" fill="none" stroke="#0f0f0f" stroke-width="1.15" stroke-linecap="round" stroke-linejoin="round"><path d="M3.500 17.500h14"/></svg>
<svg style="position:absolute;left:1842px;top:623px;" width="20" height="20" viewBox="0 0 20 20" fill="none" stroke="#0f0f0f" stroke-width="1.15" stroke-linecap="round" stroke-linejoin="round"><path d="M2.500 7V5a2.500 2.500 0 0 1 2.500-2.500h10a2.500 2.500 0 0 1 2.500 2.500v2M17.500 13v2a2.500 2.500 0 0 1-2.500 2.500H5a2.500 2.500 0 0 1-2.500-2.500v-2"/></svg>
<div style="position:absolute;left:75px;top:667.00px;line-height:20px;font-size:14px;font-weight:700;color:#0f0f0f;white-space:pre;">THE DEAD ZONE [v5] by @DavidTech</div>
<div style="position:absolute;left:331px;top:671.500px;width:7.500px;height:10.500px;border:1px solid #0f0f0f"></div>
<div style="position:absolute;left:343.5px;top:667.00px;line-height:20px;font-size:14px;font-weight:700;color:#0f0f0f;white-space:pre;">by @Dav…</div>
<div style="position:absolute;left:425.500px;top:668.500px;width:17px;height:17px;border-radius:50%;background:#fbe0fd"></div>
<svg style="position:absolute;left:425.500px;top:668.500px" width="17" height="17" viewBox="0 0 17 17" fill="none" stroke="#d11fe0" stroke-width="1.300" stroke-linejoin="round"><rect x="4.200" y="5" width="8.600" height="7.600" rx="1.200"/><path d="M4.200 7.400h8.600" stroke-width="1.700"/><path d="M6.300 3.800v1.400M10.700 3.800v1.400" stroke-linecap="round"/></svg>
<svg style="position:absolute;left:446px;top:672px;" width="12" height="10" viewBox="0 0 12 10" fill="none" stroke="#0f0f0f" stroke-width="1.15" stroke-linecap="round" stroke-linejoin="round"><path d="M2.300 3.200L6 6.800l3.700-3.600"/></svg>
<svg style="position:absolute;left:1631px;top:665px;" width="24" height="24" viewBox="0 0 24 24" fill="none" stroke="#0f0f0f" stroke-width="1.15" stroke-linecap="round" stroke-linejoin="round"><rect x="3.500" y="5.500" width="17" height="15" rx="2"/><path d="M3.500 9.500h17M8 2.800v2.700M16 2.800v2.700"/></svg>
<div style="position:absolute;left:1663px;top:667.00px;line-height:20px;font-size:14px;color:#0f0f0f;white-space:pre;">Jul 22, 2025 — Oct 20, 2025</div>
<svg style="position:absolute;left:1845px;top:672px;" width="12" height="10" viewBox="0 0 12 10" fill="none" stroke="#0f0f0f" stroke-width="1.15" stroke-linecap="round" stroke-linejoin="round"><path d="M2.300 3.200L6 6.800l3.700-3.600"/></svg>
<div style="position:absolute;left:72px;top:705px;width:82px;height:28px;border-radius:14px;background:#2b2b2b"></div>
<div style="position:absolute;left:-387.0px;width:1000px;text-align:center;top:709.00px;line-height:20px;font-size:14px;color:#fff;white-space:pre;">Overview</div>
<div style="position:absolute;left:158px;top:705px;width:105px;height:28px;border-radius:14px;background:#f2f2f2"></div>
<div style="position:absolute;left:-289.5px;width:1000px;text-align:center;top:709.00px;line-height:20px;font-size:14px;color:#0f0f0f;white-space:pre;">Performance</div>
<div style="position:absolute;left:267px;top:705px;width:121px;height:28px;border-radius:14px;background:#f2f2f2"></div>
<div style="position:absolute;left:-172.5px;width:1000px;text-align:center;top:709.00px;line-height:20px;font-size:14px;color:#0f0f0f;white-space:pre;">Trades analysis</div>
<div style="position:absolute;left:392px;top:705px;width:171.5px;height:28px;border-radius:14px;background:#f2f2f2"></div>
<div style="position:absolute;left:-22.25px;width:1000px;text-align:center;top:709.00px;line-height:20px;font-size:14px;color:#0f0f0f;white-space:pre;">Risk/performance ratios</div>
<div style="position:absolute;left:568px;top:705px;width:104px;height:28px;border-radius:14px;background:#f2f2f2"></div>
<div style="position:absolute;left:120.0px;width:1000px;text-align:center;top:709.00px;line-height:20px;font-size:14px;color:#0f0f0f;white-space:pre;">List of trades</div>
<div style="position:absolute;left:72px;top:750.00px;line-height:20px;font-size:14px;font-weight:700;color:#0f0f0f;white-space:pre;">Total P&amp;L</div>
<div style="position:absolute;left:141.8px;top:752px;width:16px;height:16px;border-radius:50%;background:#b3b3b3"></div>
<svg style="position:absolute;left:141.8px;top:752px" width="16" height="16" viewBox="0 0 16 16" fill="#fff"><circle cx="8" cy="4.700" r="1.150"/><path d="M6.300 6.900h2.600v5.100h-1.500v-3.900h-1.100z"/></svg>
<div style="position:absolute;left:72px;top:771.50px;line-height:22px;font-size:16px;color:#cc2e3f;white-space:pre;">−4,195.60</div>
<div style="position:absolute;left:146.7px;top:775.90px;line-height:17px;font-size:11px;color:#cc2e3f;white-space:pre;letter-spacing:0.3px;">USD</div>
<div style="position:absolute;left:177.2px;top:773.00px;line-height:20px;font-size:14px;color:#cc2e3f;white-space:pre;">−4.22%</div>
<div style="position:absolute;left:506px;top:750.00px;line-height:20px;font-size:14px;font-weight:700;color:#0f0f0f;white-space:pre;">Max equity drawdown</div>
<div style="position:absolute;left:657.7px;top:752px;width:16px;height:16px;border-radius:50%;background:#b3b3b3"></div>
<svg style="position:absolute;left:657.7px;top:752px" width="16" height="16" viewBox="0 0 16 16" fill="#fff"><circle cx="8" cy="4.700" r="1.150"/><path d="M6.300 6.900h2.600v5.100h-1.500v-3.900h-1.100z"/></svg>
<div style="position:absolute;left:506px;top:771.50px;line-height:22px;font-size:16px;color:#0f0f0f;white-space:pre;">39,469.31</div>
<div style="position:absolute;left:580.3px;top:775.90px;line-height:17px;font-size:11px;color:#0f0f0f;white-space:pre;letter-spacing:0.3px;">USD</div>
<div style="position:absolute;left:610.7px;top:773.00px;line-height:20px;font-size:14px;color:#0f0f0f;white-space:pre;">33.76%</div>
<div style="position:absolute;left:956px;top:750.00px;line-height:20px;font-size:14px;font-weight:700;color:#0f0f0f;white-space:pre;">Total trades</div>
<div style="position:absolute;left:1040px;top:752px;width:16px;height:16px;border-radius:50%;background:#b3b3b3"></div>
<svg style="position:absolute;left:1040px;top:752px" width="16" height="16" viewBox="0 0 16 16" fill="#fff"><circle cx="8" cy="4.700" r="1.150"/><path d="M6.300 6.900h2.600v5.100h-1.500v-3.900h-1.100z"/></svg>
<div style="position:absolute;left:956px;top:771.50px;line-height:22px;font-size:16px;color:#0f0f0f;white-space:pre;">68</div>
<div style="position:absolute;left:1338px;top:750.00px;line-height:20px;font-size:14px;font-weight:700;color:#0f0f0f;white-space:pre;">Profitable trades</div>
<div style="position:absolute;left:1454.8px;top:752px;width:16px;height:16px;border-radius:50%;background:#b3b3b3"></div>
<svg style="position:absolute;left:1454.8px;top:752px" width="16" height="16" viewBox="0 0 16 16" fill="#fff"><circle cx="8" cy="4.700" r="1.150"/><path d="M6.300 6.900h2.600v5.100h-1.500v-3.900h-1.100z"/></svg>
<div style="position:absolute;left:1338px;top:771.50px;line-height:22px;font-size:16px;color:#0f0f0f;white-space:pre;">72.06%</div>
<div style="position:absolute;left:1395.3px;top:775.65px;line-height:17.5px;font-size:11.5px;color:#0f0f0f;white-space:pre;">49/68</div>
<div style="position:absolute;left:1752.8px;top:750.00px;line-height:20px;font-size:14px;font-weight:700;color:#0f0f0f;white-space:pre;">Profit factor</div>
<div style="position:absolute;left:1838px;top:752px;width:16px;height:16px;border-radius:50%;background:#b3b3b3"></div>
<svg style="position:absolute;left:1838px;top:752px" width="16" height="16" viewBox="0 0 16 16" fill="#fff"><circle cx="8" cy="4.700" r="1.150"/><path d="M6.300 6.900h2.600v5.100h-1.500v-3.900h-1.100z"/></svg>
<div style="position:absolute;left:1752.8px;top:771.50px;line-height:22px;font-size:16px;color:#0f0f0f;white-space:pre;">0.986</div>
<svg style="position:absolute;left:0;top:790px" width="1871" height="230" viewBox="0 790 1871 230"><path d="M84.5 903.3 L109.5 897.5 L134.5 896.2 L159.5 894.2 L184.5 889.5 L209.5 886.3 L234.5 879.7 L259.5 865.8 L284.5 871.3 L309.5 866.2 L334.5 877.8 L359.5 883.3 L384.5 894.2 L409.5 892.8 L434.5 890.3 L459.5 891.2 L484.5 889.5 L509.5 886.3 L534.5 885.3 L559.5 890.8 L584.5 896.7 L609.5 895.3 L634.5 893.0 L659.5 891.3 L684.5 889.7 L709.5 885.5 L734.5 885.0 L759.5 882.0 L784.5 874.5 L809.5 868.8 L834.5 866.7 L859.5 873.0 L884.5 870.3 L909.5 864.5 L934.5 860.0 L959.5 854.2 L984.5 841.3 L1009.5 832.0 L1034.5 864.2 L1059.5 891.3 L1084.5 905.3 L1085.2 906.1 L1085.2 906.1 L84.5 906.1z" fill="rgba(8,153,129,0.045)"/><path d="M1085.2 906.1 L1109.5 933.0 L1134.5 950.5 L1159.5 970.0 L1184.5 964.5 L1209.5 976.7 L1234.5 976.2 L1259.5 978.3 L1284.5 990.8 L1309.5 987.5 L1334.5 980.5 L1359.5 975.5 L1384.5 971.7 L1409.5 962.5 L1434.5 955.8 L1459.5 952.0 L1484.5 943.0 L1509.5 934.2 L1534.5 927.0 L1559.5 943.3 L1584.5 939.2 L1609.5 931.2 L1634.5 925.0 L1659.5 919.5 L1684.5 906.2 L1684.8 906.1 L1684.8 906.1 L1085.2 906.1z" fill="rgba(242,54,69,0.045)"/><path d="M1684.8 906.1 L1709.5 897.0 L1734.5 890.5 L1755.4 906.1 L1755.4 906.1 L1684.8 906.1z" fill="rgba(8,153,129,0.045)"/><path d="M1755.4 906.1 L1759.5 909.2 L1759.5 906.1 L1755.4 906.1z" fill="rgba(242,54,69,0.045)"/><path d="M72.5 906.1V893.3a2 2 0 0 1 2-2h18a2 2 0 0 1 2 2V906.1z" fill="#42bda8"/><path d="M72.5 906.1V912.1a2 2 0 0 0 2 2h18a2 2 0 0 0 2-2V906.1z" fill="#fcc9cc"/><path d="M97.5 906.1V877.3a2 2 0 0 1 2-2h18a2 2 0 0 1 2 2V906.1z" fill="#42bda8"/><path d="M97.5 906.1V919.1a2 2 0 0 0 2 2h18a2 2 0 0 0 2-2V906.1z" fill="#fcc9cc"/><path d="M122.5 906.1V865.6a2 2 0 0 1 2-2h18a2 2 0 0 1 2 2V906.1z" fill="#a9e4da"/><path d="M122.5 906.1V892.4a0.01 0.01 0 0 1 0.01-0.01h21.98a0.01 0.01 0 0 1 0.01 0.01V906.1z" fill="#42bda8"/><path d="M122.5 906.1V919.1a2 2 0 0 0 2 2h18a2 2 0 0 0 2-2V906.1z" fill="#fcc9cc"/><path d="M147.5 906.1V888.6a2 2 0 0 1 2-2h18a2 2 0 0 1 2 2V906.1z" fill="#a9e4da"/><path d="M147.5 906.1V888.3a0.01 0.01 0 0 1 0.01-0.01h21.98a0.01 0.01 0 0 1 0.01 0.01V906.1z" fill="#42bda8"/><path d="M172.5 906.1V870.3a2 2 0 0 1 2-2h18a2 2 0 0 1 2 2V906.1z" fill="#42bda8"/><path d="M197.5 906.1V852.3a2 2 0 0 1 2-2h18a2 2 0 0 1 2 2V906.1z" fill="#42bda8"/><path d="M222.5 906.1V888.3a2 2 0 0 1 2-2h18a2 2 0 0 1 2 2V906.1z" fill="#42bda8"/><path d="M222.5 906.1V914.1a2 2 0 0 0 2 2h18a2 2 0 0 0 2-2V906.1z" fill="#fcc9cc"/><path d="M247.5 906.1V868.6a2 2 0 0 1 2-2h18a2 2 0 0 1 2 2V906.1z" fill="#42bda8"/><path d="M247.5 906.1V914.1a2 2 0 0 0 2 2h18a2 2 0 0 0 2-2V906.1z" fill="#fcc9cc"/><path d="M272.5 906.1V858.6a2 2 0 0 1 2-2h18a2 2 0 0 1 2 2V906.1z" fill="#a9e4da"/><path d="M272.5 906.1V941.3a2 2 0 0 0 2 2h18a2 2 0 0 0 2-2V906.1z" fill="#fcc9cc"/><path d="M272.5 906.1V938.3a0.01 0.01 0 0 0 0.01 0.01h21.98a0.01 0.01 0 0 0 0.01-0.01V906.1z" fill="#f77c80"/><path d="M297.5 906.1V890.3a2 2 0 0 1 2-2h18a2 2 0 0 1 2 2V906.1z" fill="#42bda8"/><path d="M297.5 906.1V906.1a1 1 0 0 0 1 1h20a1 1 0 0 0 1-1V906.1z" fill="#fcc9cc"/><path d="M322.5 906.1V879.8a2 2 0 0 1 2-2h18a2 2 0 0 1 2 2V906.1z" fill="#a9e4da"/><path d="M322.5 906.1V935.9a2 2 0 0 0 2 2h18a2 2 0 0 0 2-2V906.1z" fill="#fcc9cc"/><path d="M322.5 906.1V931.1a0.01 0.01 0 0 0 0.01 0.01h21.98a0.01 0.01 0 0 0 0.01-0.01V906.1z" fill="#f77c80"/><path d="M347.5 906.1V903.6a2 2 0 0 1 2-2h18a2 2 0 0 1 2 2V906.1z" fill="#a9e4da"/><path d="M347.5 906.1V937.1a2 2 0 0 0 2 2h18a2 2 0 0 0 2-2V906.1z" fill="#fcc9cc"/><path d="M347.5 906.1V927.1a0.01 0.01 0 0 0 0.01 0.01h21.98a0.01 0.01 0 0 0 0.01-0.01V906.1z" fill="#f77c80"/><path d="M372.5 906.1V899.8a2 2 0 0 1 2-2h18a2 2 0 0 1 2 2V906.1z" fill="#a9e4da"/><path d="M372.5 906.1V936.3a2 2 0 0 0 2 2h18a2 2 0 0 0 2-2V906.1z" fill="#f77c80"/><path d="M397.5 906.1V901.4a2 2 0 0 1 2-2h18a2 2 0 0 1 2 2V906.1z" fill="#42bda8"/><path d="M397.5 906.1V906.1a1.7 1.7 0 0 0 1.7 1.7h18.6a1.7 1.7 0 0 0 1.7-1.7V906.1z" fill="#fcc9cc"/><path d="M422.5 906.1V892.8a2 2 0 0 1 2-2h18a2 2 0 0 1 2 2V906.1z" fill="#42bda8"/><path d="M422.5 906.1V906.8a2 2 0 0 0 2 2h18a2 2 0 0 0 2-2V906.1z" fill="#fcc9cc"/><path d="M447.5 906.1V890.6a2 2 0 0 1 2-2h18a2 2 0 0 1 2 2V906.1z" fill="#a9e4da"/><path d="M447.5 906.1V911.6a2 2 0 0 0 2 2h18a2 2 0 0 0 2-2V906.1z" fill="#f77c80"/><path d="M472.5 906.1V894.4a2 2 0 0 1 2-2h18a2 2 0 0 1 2 2V906.1z" fill="#42bda8"/><path d="M472.5 906.1V918.8a2 2 0 0 0 2 2h18a2 2 0 0 0 2-2V906.1z" fill="#fcc9cc"/><path d="M497.5 906.1V879.4a2 2 0 0 1 2-2h18a2 2 0 0 1 2 2V906.1z" fill="#42bda8"/><path d="M497.5 906.1V918.8a2 2 0 0 0 2 2h18a2 2 0 0 0 2-2V906.1z" fill="#fcc9cc"/><path d="M522.5 906.1V878.6a2 2 0 0 1 2-2h18a2 2 0 0 1 2 2V906.1z" fill="#a9e4da"/><path d="M522.5 906.1V886.6a0.01 0.01 0 0 1 0.01-0.01h21.98a0.01 0.01 0 0 1 0.01 0.01V906.1z" fill="#42bda8"/><path d="M522.5 906.1V918.8a2 2 0 0 0 2 2h18a2 2 0 0 0 2-2V906.1z" fill="#fcc9cc"/><path d="M547.5 906.1V924.1a2 2 0 0 0 2 2h18a2 2 0 0 0 2-2V906.1z" fill="#f77c80"/><path d="M572.5 906.1V904.8a2 2 0 0 1 2-2h18a2 2 0 0 1 2 2V906.1z" fill="#a9e4da"/><path d="M572.5 906.1V930.9a2 2 0 0 0 2 2h18a2 2 0 0 0 2-2V906.1z" fill="#fcc9cc"/><path d="M572.5 906.1V926.1a0.01 0.01 0 0 0 0.01 0.01h21.98a0.01 0.01 0 0 0 0.01-0.01V906.1z" fill="#f77c80"/><path d="M597.5 906.1V899.4a2 2 0 0 1 2-2h18a2 2 0 0 1 2 2V906.1z" fill="#42bda8"/><path d="M597.5 906.1V919.9a2 2 0 0 0 2 2h18a2 2 0 0 0 2-2V906.1z" fill="#fcc9cc"/><path d="M622.5 906.1V889.9a2 2 0 0 1 2-2h18a2 2 0 0 1 2 2V906.1z" fill="#42bda8"/><path d="M622.5 906.1V919.9a2 2 0 0 0 2 2h18a2 2 0 0 0 2-2V906.1z" fill="#fcc9cc"/><path d="M647.5 906.1V881.1a2 2 0 0 1 2-2h18a2 2 0 0 1 2 2V906.1z" fill="#42bda8"/><path d="M647.5 906.1V919.9a2 2 0 0 0 2 2h18a2 2 0 0 0 2-2V906.1z" fill="#fcc9cc"/><path d="M672.5 906.1V900.3a2 2 0 0 1 2-2h18a2 2 0 0 1 2 2V906.1z" fill="#42bda8"/><path d="M672.5 906.1V912.9a2 2 0 0 0 2 2h18a2 2 0 0 0 2-2V906.1z" fill="#fcc9cc"/><path d="M697.5 906.1V890.3a2 2 0 0 1 2-2h18a2 2 0 0 1 2 2V906.1z" fill="#42bda8"/><path d="M697.5 906.1V912.9a2 2 0 0 0 2 2h18a2 2 0 0 0 2-2V906.1z" fill="#fcc9cc"/><path d="M722.5 906.1V889.4a2 2 0 0 1 2-2h18a2 2 0 0 1 2 2V906.1z" fill="#a9e4da"/><path d="M722.5 906.1V901.6a0.01 0.01 0 0 1 0.01-0.01h21.98a0.01 0.01 0 0 1 0.01 0.01V906.1z" fill="#42bda8"/><path d="M722.5 906.1V912.9a2 2 0 0 0 2 2h18a2 2 0 0 0 2-2V906.1z" fill="#fcc9cc"/><path d="M747.5 906.1V897.3a2 2 0 0 1 2-2h18a2 2 0 0 1 2 2V906.1z" fill="#42bda8"/><path d="M747.5 906.1V922.1a2 2 0 0 0 2 2h18a2 2 0 0 0 2-2V906.1z" fill="#fcc9cc"/><path d="M772.5 906.1V884.4a2 2 0 0 1 2-2h18a2 2 0 0 1 2 2V906.1z" fill="#42bda8"/><path d="M772.5 906.1V922.1a2 2 0 0 0 2 2h18a2 2 0 0 0 2-2V906.1z" fill="#fcc9cc"/><path d="M797.5 906.1V872.8a2 2 0 0 1 2-2h18a2 2 0 0 1 2 2V906.1z" fill="#42bda8"/><path d="M797.5 906.1V922.1a2 2 0 0 0 2 2h18a2 2 0 0 0 2-2V906.1z" fill="#fcc9cc"/><path d="M822.5 906.1V897.4a2 2 0 0 1 2-2h18a2 2 0 0 1 2 2V906.1z" fill="#42bda8"/><path d="M822.5 906.1V914.9a2 2 0 0 0 2 2h18a2 2 0 0 0 2-2V906.1z" fill="#fcc9cc"/><path d="M847.5 906.1V890.6a2 2 0 0 1 2-2h18a2 2 0 0 1 2 2V906.1z" fill="#a9e4da"/><path d="M847.5 906.1V924.6a2 2 0 0 0 2 2h18a2 2 0 0 0 2-2V906.1z" fill="#fcc9cc"/><path d="M847.5 906.1V925.4a0.01 0.01 0 0 0 0.01 0.01h21.98a0.01 0.01 0 0 0 0.01-0.01V906.1z" fill="#f77c80"/><path d="M872.5 906.1V896.4a2 2 0 0 1 2-2h18a2 2 0 0 1 2 2V906.1z" fill="#42bda8"/><path d="M872.5 906.1V912.9a2 2 0 0 0 2 2h18a2 2 0 0 0 2-2V906.1z" fill="#fcc9cc"/><path d="M897.5 906.1V884.1a2 2 0 0 1 2-2h18a2 2 0 0 1 2 2V906.1z" fill="#42bda8"/><path d="M897.5 906.1V912.9a2 2 0 0 0 2 2h18a2 2 0 0 0 2-2V906.1z" fill="#fcc9cc"/><path d="M922.5 906.1V871.9a2 2 0 0 1 2-2h18a2 2 0 0 1 2 2V906.1z" fill="#42bda8"/><path d="M922.5 906.1V912.9a2 2 0 0 0 2 2h18a2 2 0 0 0 2-2V906.1z" fill="#fcc9cc"/><path d="M947.5 906.1V889.9a2 2 0 0 1 2-2h18a2 2 0 0 1 2 2V906.1z" fill="#42bda8"/><path d="M947.5 906.1V909.6a2 2 0 0 0 2 2h18a2 2 0 0 0 2-2V906.1z" fill="#fcc9cc"/><path d="M972.5 906.1V870.3a2 2 0 0 1 2-2h18a2 2 0 0 1 2 2V906.1z" fill="#42bda8"/><path d="M972.5 906.1V909.6a2 2 0 0 0 2 2h18a2 2 0 0 0 2-2V906.1z" fill="#fcc9cc"/><path d="M997.5 906.1V852.4a2 2 0 0 1 2-2h18a2 2 0 0 1 2 2V906.1z" fill="#42bda8"/><path d="M997.5 906.1V909.6a2 2 0 0 0 2 2h18a2 2 0 0 0 2-2V906.1z" fill="#fcc9cc"/><path d="M1022.5 906.1V890.6a2 2 0 0 1 2-2h18a2 2 0 0 1 2 2V906.1z" fill="#a9e4da"/><path d="M1022.5 906.1V941.3a2 2 0 0 0 2 2h18a2 2 0 0 0 2-2V906.1z" fill="#f77c80"/><path d="M1047.5 906.1V933.8a2 2 0 0 0 2 2h18a2 2 0 0 0 2-2V906.1z" fill="#fcc9cc"/><path d="M1047.5 906.1V934.4a0.01 0.01 0 0 0 0.01 0.01h21.98a0.01 0.01 0 0 0 0.01-0.01V906.1z" fill="#f77c80"/><path d="M1072.5 906.1V903.6a2 2 0 0 1 2-2h18a2 2 0 0 1 2 2V906.1z" fill="#a9e4da"/><path d="M1072.5 906.1V919.6a2 2 0 0 0 2 2h18a2 2 0 0 0 2-2V906.1z" fill="#fcc9cc"/><path d="M1072.5 906.1V919.4a0.01 0.01 0 0 0 0.01 0.01h21.98a0.01 0.01 0 0 0 0.01-0.01V906.1z" fill="#f77c80"/><path d="M1097.5 906.1V928.3a2 2 0 0 0 2 2h18a2 2 0 0 0 2-2V906.1z" fill="#f77c80"/><path d="M1122.5 906.1V898.6a2 2 0 0 1 2-2h18a2 2 0 0 1 2 2V906.1z" fill="#a9e4da"/><path d="M1122.5 906.1V924.9a2 2 0 0 0 2 2h18a2 2 0 0 0 2-2V906.1z" fill="#fcc9cc"/><path d="M1122.5 906.1V919.4a0.01 0.01 0 0 0 0.01 0.01h21.98a0.01 0.01 0 0 0 0.01-0.01V906.1z" fill="#f77c80"/><path d="M1147.5 906.1V919.3a2 2 0 0 0 2 2h18a2 2 0 0 0 2-2V906.1z" fill="#fcc9cc"/><path d="M1147.5 906.1V919.4a0.01 0.01 0 0 0 0.01 0.01h21.98a0.01 0.01 0 0 0 0.01-0.01V906.1z" fill="#f77c80"/><path d="M1172.5 906.1V899.4a2 2 0 0 1 2-2h18a2 2 0 0 1 2 2V906.1z" fill="#42bda8"/><path d="M1172.5 906.1V908.8a2 2 0 0 0 2 2h18a2 2 0 0 0 2-2V906.1z" fill="#fcc9cc"/><path d="M1197.5 906.1V899.8a2 2 0 0 1 2-2h18a2 2 0 0 1 2 2V906.1z" fill="#a9e4da"/><path d="M1197.5 906.1V919.6a2 2 0 0 0 2 2h18a2 2 0 0 0 2-2V906.1z" fill="#fcc9cc"/><path d="M1197.5 906.1V919.4a0.01 0.01 0 0 0 0.01 0.01h21.98a0.01 0.01 0 0 0 0.01-0.01V906.1z" fill="#f77c80"/><path d="M1222.5 906.1V901.1a2 2 0 0 1 2-2h18a2 2 0 0 1 2 2V906.1z" fill="#42bda8"/><path d="M1222.5 906.1V909.6a2 2 0 0 0 2 2h18a2 2 0 0 0 2-2V906.1z" fill="#fcc9cc"/><path d="M1247.5 906.1V894.8a2 2 0 0 1 2-2h18a2 2 0 0 1 2 2V906.1z" fill="#a9e4da"/><path d="M1247.5 906.1V920.4a2 2 0 0 0 2 2h18a2 2 0 0 0 2-2V906.1z" fill="#fcc9cc"/><path d="M1247.5 906.1V920.8a0.01 0.01 0 0 0 0.01 0.01h21.98a0.01 0.01 0 0 0 0.01-0.01V906.1z" fill="#f77c80"/><path d="M1272.5 906.1V897.8a2 2 0 0 1 2-2h18a2 2 0 0 1 2 2V906.1z" fill="#a9e4da"/><path d="M1272.5 906.1V930.4a2 2 0 0 0 2 2h18a2 2 0 0 0 2-2V906.1z" fill="#f77c80"/><path d="M1297.5 906.1V891.4a2 2 0 0 1 2-2h18a2 2 0 0 1 2 2V906.1z" fill="#42bda8"/><path d="M1297.5 906.1V932.1a2 2 0 0 0 2 2h18a2 2 0 0 0 2-2V906.1z" fill="#fcc9cc"/><path d="M1322.5 906.1V873.6a2 2 0 0 1 2-2h18a2 2 0 0 1 2 2V906.1z" fill="#42bda8"/><path d="M1322.5 906.1V932.1a2 2 0 0 0 2 2h18a2 2 0 0 0 2-2V906.1z" fill="#fcc9cc"/><path d="M1347.5 906.1V856.4a2 2 0 0 1 2-2h18a2 2 0 0 1 2 2V906.1z" fill="#42bda8"/><path d="M1347.5 906.1V932.1a2 2 0 0 0 2 2h18a2 2 0 0 0 2-2V906.1z" fill="#fcc9cc"/><path d="M1372.5 906.1V892.3a2 2 0 0 1 2-2h18a2 2 0 0 1 2 2V906.1z" fill="#42bda8"/><path d="M1372.5 906.1V906.1a1.3 1.3 0 0 0 1.3 1.3h19.4a1.3 1.3 0 0 0 1.3-1.3V906.1z" fill="#fcc9cc"/><path d="M1397.5 906.1V874.4a2 2 0 0 1 2-2h18a2 2 0 0 1 2 2V906.1z" fill="#42bda8"/><path d="M1397.5 906.1V906.1a1.3 1.3 0 0 0 1.3 1.3h19.4a1.3 1.3 0 0 0 1.3-1.3V906.1z" fill="#fcc9cc"/><path d="M1422.5 906.1V858.1a2 2 0 0 1 2-2h18a2 2 0 0 1 2 2V906.1z" fill="#42bda8"/><path d="M1422.5 906.1V906.1a1.3 1.3 0 0 0 1.3 1.3h19.4a1.3 1.3 0 0 0 1.3-1.3V906.1z" fill="#fcc9cc"/><path d="M1447.5 906.1V850.8a2 2 0 0 1 2-2h18a2 2 0 0 1 2 2V906.1z" fill="#a9e4da"/><path d="M1447.5 906.1V867.8a0.01 0.01 0 0 1 0.01-0.01h21.98a0.01 0.01 0 0 1 0.01 0.01V906.1z" fill="#42bda8"/><path d="M1447.5 906.1V912.9a2 2 0 0 0 2 2h18a2 2 0 0 0 2-2V906.1z" fill="#fcc9cc"/><path d="M1472.5 906.1V850.8a2 2 0 0 1 2-2h18a2 2 0 0 1 2 2V906.1z" fill="#a9e4da"/><path d="M1472.5 906.1V867.8a0.01 0.01 0 0 1 0.01-0.01h21.98a0.01 0.01 0 0 1 0.01 0.01V906.1z" fill="#42bda8"/><path d="M1472.5 906.1V912.9a2 2 0 0 0 2 2h18a2 2 0 0 0 2-2V906.1z" fill="#fcc9cc"/><path d="M1497.5 906.1V850.8a2 2 0 0 1 2-2h18a2 2 0 0 1 2 2V906.1z" fill="#a9e4da"/><path d="M1497.5 906.1V867.8a0.01 0.01 0 0 1 0.01-0.01h21.98a0.01 0.01 0 0 1 0.01 0.01V906.1z" fill="#42bda8"/><path d="M1497.5 906.1V912.9a2 2 0 0 0 2 2h18a2 2 0 0 0 2-2V906.1z" fill="#fcc9cc"/><path d="M1522.5 906.1V870.1a2 2 0 0 1 2-2h18a2 2 0 0 1 2 2V906.1z" fill="#42bda8"/><path d="M1522.5 906.1V934.1a2 2 0 0 0 2 2h18a2 2 0 0 0 2-2V906.1z" fill="#fcc9cc"/><path d="M1547.5 906.1V896.1a2 2 0 0 1 2-2h18a2 2 0 0 1 2 2V906.1z" fill="#a9e4da"/><path d="M1547.5 906.1V948.8a2 2 0 0 0 2 2h18a2 2 0 0 0 2-2V906.1z" fill="#fcc9cc"/><path d="M1547.5 906.1V937.1a0.01 0.01 0 0 0 0.01 0.01h21.98a0.01 0.01 0 0 0 0.01-0.01V906.1z" fill="#f77c80"/><path d="M1572.5 906.1V888.1a2 2 0 0 1 2-2h18a2 2 0 0 1 2 2V906.1z" fill="#42bda8"/><path d="M1572.5 906.1V906.1a1.7 1.7 0 0 0 1.7 1.7h18.6a1.7 1.7 0 0 0 1.7-1.7V906.1z" fill="#fcc9cc"/><path d="M1597.5 906.1V888.1a2 2 0 0 1 2-2h18a2 2 0 0 1 2 2V906.1z" fill="#42bda8"/><path d="M1597.5 906.1V910.8a2 2 0 0 0 2 2h18a2 2 0 0 0 2-2V906.1z" fill="#fcc9cc"/><path d="M1622.5 906.1V888.1a2 2 0 0 1 2-2h18a2 2 0 0 1 2 2V906.1z" fill="#42bda8"/><path d="M1622.5 906.1V910.8a2 2 0 0 0 2 2h18a2 2 0 0 0 2-2V906.1z" fill="#fcc9cc"/><path d="M1647.5 906.1V888.1a2 2 0 0 1 2-2h18a2 2 0 0 1 2 2V906.1z" fill="#42bda8"/><path d="M1647.5 906.1V917.4a2 2 0 0 0 2 2h18a2 2 0 0 0 2-2V906.1z" fill="#fcc9cc"/><path d="M1672.5 906.1V888.1a2 2 0 0 1 2-2h18a2 2 0 0 1 2 2V906.1z" fill="#42bda8"/><path d="M1672.5 906.1V917.4a2 2 0 0 0 2 2h18a2 2 0 0 0 2-2V906.1z" fill="#fcc9cc"/><path d="M1697.5 906.1V888.1a2 2 0 0 1 2-2h18a2 2 0 0 1 2 2V906.1z" fill="#42bda8"/><path d="M1697.5 906.1V917.4a2 2 0 0 0 2 2h18a2 2 0 0 0 2-2V906.1z" fill="#fcc9cc"/><path d="M1722.5 906.1V885.8a2 2 0 0 1 2-2h18a2 2 0 0 1 2 2V906.1z" fill="#42bda8"/><path d="M1722.5 906.1V930.9a2 2 0 0 0 2 2h18a2 2 0 0 0 2-2V906.1z" fill="#fcc9cc"/><path d="M1747.5 906.1V881.4a2 2 0 0 1 2-2h18a2 2 0 0 1 2 2V906.1z" fill="#a9e4da"/><path d="M1747.5 906.1V944.6a2 2 0 0 0 2 2h18a2 2 0 0 0 2-2V906.1z" fill="#f77c80"/><rect x="259" y="996" width="625" height="4" fill="#f7a1a7"/><rect x="1009" y="996" width="750" height="4" fill="#f7a1a7"/><path d="M84.5 903.3 L109.5 897.5 L134.5 896.2 L159.5 894.2 L184.5 889.5 L209.5 886.3 L234.5 879.7 L259.5 865.8 L284.5 871.3 L309.5 866.2 L334.5 877.8 L359.5 883.3 L384.5 894.2 L409.5 892.8 L434.5 890.3 L459.5 891.2 L484.5 889.5 L509.5 886.3 L534.5 885.3 L559.5 890.8 L584.5 896.7 L609.5 895.3 L634.5 893.0 L659.5 891.3 L684.5 889.7 L709.5 885.5 L734.5 885.0 L759.5 882.0 L784.5 874.5 L809.5 868.8 L834.5 866.7 L859.5 873.0 L884.5 870.3 L909.5 864.5 L934.5 860.0 L959.5 854.2 L984.5 841.3 L1009.5 832.0 L1034.5 864.2 L1059.5 891.3 L1084.5 905.3 L1085.2 906.1" fill="none" stroke="#089981" stroke-width="2" stroke-linejoin="round" stroke-linecap="round"/><path d="M1085.2 906.1 L1109.5 933.0 L1134.5 950.5 L1159.5 970.0 L1184.5 964.5 L1209.5 976.7 L1234.5 976.2 L1259.5 978.3 L1284.5 990.8 L1309.5 987.5 L1334.5 980.5 L1359.5 975.5 L1384.5 971.7 L1409.5 962.5 L1434.5 955.8 L1459.5 952.0 L1484.5 943.0 L1509.5 934.2 L1534.5 927.0 L1559.5 943.3 L1584.5 939.2 L1609.5 931.2 L1634.5 925.0 L1659.5 919.5 L1684.5 906.2 L1684.8 906.1" fill="none" stroke="#f23645" stroke-width="2" stroke-linejoin="round" stroke-linecap="round"/><path d="M1684.8 906.1 L1709.5 897.0 L1734.5 890.5 L1755.4 906.1" fill="none" stroke="#089981" stroke-width="2" stroke-linejoin="round" stroke-linecap="round"/><path d="M1755.4 906.1 L1759.5 909.2" fill="none" stroke="#f23645" stroke-width="2" stroke-linejoin="round" stroke-linecap="round"/><circle cx="84.5" cy="903.3" r="4" fill="#089981"/><circle cx="109.5" cy="897.5" r="4" fill="#089981"/><circle cx="134.5" cy="896.2" r="4" fill="#089981"/><circle cx="159.5" cy="894.2" r="4" fill="#089981"/><circle cx="184.5" cy="889.5" r="4" fill="#089981"/><circle cx="209.5" cy="886.3" r="4" fill="#089981"/><circle cx="234.5" cy="879.7" r="4" fill="#089981"/><circle cx="259.5" cy="865.8" r="4" fill="#089981"/><circle cx="284.5" cy="871.3" r="4" fill="#089981"/><circle cx="309.5" cy="866.2" r="4" fill="#089981"/><circle cx="334.5" cy="877.8" r="4" fill="#089981"/><circle cx="359.5" cy="883.3" r="4" fill="#089981"/><circle cx="384.5" cy="894.2" r="4" fill="#089981"/><circle cx="409.5" cy="892.8" r="4" fill="#089981"/><circle cx="434.5" cy="890.3" r="4" fill="#089981"/><circle cx="459.5" cy="891.2" r="4" fill="#089981"/><circle cx="484.5" cy="889.5" r="4" fill="#089981"/><circle cx="509.5" cy="886.3" r="4" fill="#089981"/><circle cx="534.5" cy="885.3" r="4" fill="#089981"/><circle cx="559.5" cy="890.8" r="4" fill="#089981"/><circle cx="584.5" cy="896.7" r="4" fill="#089981"/><circle cx="609.5" cy="895.3" r="4" fill="#089981"/><circle cx="634.5" cy="893" r="4" fill="#089981"/><circle cx="659.5" cy="891.3" r="4" fill="#089981"/><circle cx="684.5" cy="889.7" r="4" fill="#089981"/><circle cx="709.5" cy="885.5" r="4" fill="#089981"/><circle cx="734.5" cy="885" r="4" fill="#089981"/><circle cx="759.5" cy="882" r="4" fill="#089981"/><circle cx="784.5" cy="874.5" r="4" fill="#089981"/><circle cx="809.5" cy="868.8" r="4" fill="#089981"/><circle cx="834.5" cy="866.7" r="4" fill="#089981"/><circle cx="859.5" cy="873" r="4" fill="#089981"/><circle cx="884.5" cy="870.3" r="4" fill="#089981"/><circle cx="909.5" cy="864.5" r="4" fill="#089981"/><circle cx="934.5" cy="860" r="4" fill="#089981"/><circle cx="959.5" cy="854.2" r="4" fill="#089981"/><circle cx="984.5" cy="841.3" r="4" fill="#089981"/><circle cx="1009.5" cy="832" r="4" fill="#089981"/><circle cx="1034.5" cy="864.2" r="4" fill="#089981"/><circle cx="1059.5" cy="891.3" r="4" fill="#089981"/><circle cx="1084.5" cy="905.3" r="4" fill="#089981"/><circle cx="1109.5" cy="933" r="4" fill="#f23645"/><circle cx="1134.5" cy="950.5" r="4" fill="#f23645"/><circle cx="1159.5" cy="970" r="4" fill="#f23645"/><circle cx="1184.5" cy="964.5" r="4" fill="#f23645"/><circle cx="1209.5" cy="976.7" r="4" fill="#f23645"/><circle cx="1234.5" cy="976.2" r="4" fill="#f23645"/><circle cx="1259.5" cy="978.3" r="4" fill="#f23645"/><circle cx="1284.5" cy="990.8" r="4" fill="#f23645"/><circle cx="1309.5" cy="987.5" r="4" fill="#f23645"/><circle cx="1334.5" cy="980.5" r="4" fill="#f23645"/><circle cx="1359.5" cy="975.5" r="4" fill="#f23645"/><circle cx="1384.5" cy="971.7" r="4" fill="#f23645"/><circle cx="1409.5" cy="962.5" r="4" fill="#f23645"/><circle cx="1434.5" cy="955.8" r="4" fill="#f23645"/><circle cx="1459.5" cy="952" r="4" fill="#f23645"/><circle cx="1484.5" cy="943" r="4" fill="#f23645"/><circle cx="1509.5" cy="934.2" r="4" fill="#f23645"/><circle cx="1534.5" cy="927" r="4" fill="#f23645"/><circle cx="1559.5" cy="943.3" r="4" fill="#f23645"/><circle cx="1584.5" cy="939.2" r="4" fill="#f23645"/><circle cx="1609.5" cy="931.2" r="4" fill="#f23645"/><circle cx="1634.5" cy="925" r="4" fill="#f23645"/><circle cx="1659.5" cy="919.5" r="4" fill="#f23645"/><circle cx="1684.5" cy="906.2" r="4" fill="#f23645"/><circle cx="1709.5" cy="897" r="4" fill="#089981"/><circle cx="1734.5" cy="890.5" r="4" fill="#089981"/><circle cx="1759.5" cy="909.2" r="4" fill="#f23645"/><rect x="1734" y="822" width="1" height="179" fill="#e0e0e0"/><circle cx="1734.5" cy="890.5" r="6.200" fill="#089981" stroke="#fff" stroke-width="2.600"/></svg>
<div style="position:absolute;left:1510px;top:794px;width:211px;height:107.500px;border-radius:4px;background:#3b3b3b"></div>
<div style="position:absolute;left:1115.5px;width:1000px;text-align:center;top:798.50px;line-height:18px;font-size:12px;color:#b4b4b4;white-space:pre;">Trade #67 Short</div>
<div style="position:absolute;left:1523.800px;top:827.5px;width:8.400px;height:8.400px;border-radius:50%;background:#089981"></div>
<div style="position:absolute;left:1536px;top:822.70px;line-height:18px;font-size:12px;font-weight:700;color:#fff;white-space:pre;">Cumulative P&amp;L</div>
<div style="position:absolute;right:237.29999999999995px;top:822.70px;line-height:18px;font-size:12px;font-weight:700;color:#fff;white-space:pre;">3,540.04</div>
<div style="position:absolute;left:1684.8px;top:825.70px;line-height:15px;font-size:9px;font-weight:700;color:#fff;white-space:pre;">USDT</div>
<div style="position:absolute;left:1523.800px;top:843.5px;width:8.400px;height:8.400px;border-radius:50%;background:#a9e4da"></div>
<div style="position:absolute;left:1536px;top:838.70px;line-height:18px;font-size:12px;font-weight:700;color:#fff;white-space:pre;">Run-up</div>
<div style="position:absolute;right:237.29999999999995px;top:838.70px;line-height:18px;font-size:12px;font-weight:700;color:#fff;white-space:pre;">1,597.18</div>
<div style="position:absolute;left:1684.8px;top:841.70px;line-height:15px;font-size:9px;font-weight:700;color:#fff;white-space:pre;">USDT</div>
<div style="position:absolute;left:1523.800px;top:859.5px;width:8.400px;height:8.400px;border-radius:50%;background:#fcc9cc"></div>
<div style="position:absolute;left:1536px;top:854.70px;line-height:18px;font-size:12px;font-weight:700;color:#fff;white-space:pre;">Drawdown</div>
<div style="position:absolute;right:237.29999999999995px;top:854.70px;line-height:18px;font-size:12px;font-weight:700;color:#fff;white-space:pre;">1,889.94</div>
<div style="position:absolute;left:1684.8px;top:857.70px;line-height:15px;font-size:9px;font-weight:700;color:#fff;white-space:pre;">USDT</div>
<div style="position:absolute;left:1115.5px;width:1000px;text-align:center;top:878.50px;line-height:18px;font-size:12px;color:#b4b4b4;white-space:pre;">Fri, Oct 17, 2025, 14:30</div>
<div style="position:absolute;left:1782.4px;top:852.50px;line-height:18px;font-size:12px;color:#0f0f0f;white-space:pre;">10,000.00</div>
<div style="position:absolute;left:1782.4px;top:939.50px;line-height:18px;font-size:12px;color:#0f0f0f;white-space:pre;">−10,000.00</div>
<div style="position:absolute;left:1782.4px;top:983.50px;line-height:18px;font-size:12px;color:#0f0f0f;white-space:pre;">−20,000.00</div>
<div style="position:absolute;left:1779.5px;top:900.5px;width:56.5px;height:16px;background:#f23645;border-radius:2px;"></div>
<div style="position:absolute;left:1788.3px;top:899.30px;line-height:18px;font-size:12px;color:#fff;white-space:pre;">−712.31</div>
<div style="position:absolute;left:-416.5px;width:1000px;text-align:center;top:1006.50px;line-height:18px;font-size:12px;color:#0f0f0f;white-space:pre;">18</div>
<div style="position:absolute;left:-266.5px;width:1000px;text-align:center;top:1006.50px;line-height:18px;font-size:12px;color:#0f0f0f;white-space:pre;">23</div>
<div style="position:absolute;left:-116.5px;width:1000px;text-align:center;top:1006.50px;line-height:18px;font-size:12px;font-weight:700;color:#0f0f0f;white-space:pre;">Sep</div>
<div style="position:absolute;left:-16.5px;width:1000px;text-align:center;top:1006.50px;line-height:18px;font-size:12px;color:#0f0f0f;white-space:pre;">5</div>
<div style="position:absolute;left:83.5px;width:1000px;text-align:center;top:1006.50px;line-height:18px;font-size:12px;color:#0f0f0f;white-space:pre;">10</div>
<div style="position:absolute;left:233.5px;width:1000px;text-align:center;top:1006.50px;line-height:18px;font-size:12px;color:#0f0f0f;white-space:pre;">13</div>
<div style="position:absolute;left:333.5px;width:1000px;text-align:center;top:1006.50px;line-height:18px;font-size:12px;color:#0f0f0f;white-space:pre;">18</div>
<div style="position:absolute;left:433.5px;width:1000px;text-align:center;top:1006.50px;line-height:18px;font-size:12px;color:#0f0f0f;white-space:pre;">02:00</div>
<div style="position:absolute;left:533.5px;width:1000px;text-align:center;top:1006.50px;line-height:18px;font-size:12px;color:#0f0f0f;white-space:pre;">23</div>
<div style="position:absolute;left:633.5px;width:1000px;text-align:center;top:1006.50px;line-height:18px;font-size:12px;font-weight:700;color:#0f0f0f;white-space:pre;">Oct</div>
<div style="position:absolute;left:783.5px;width:1000px;text-align:center;top:1006.50px;line-height:18px;font-size:12px;color:#0f0f0f;white-space:pre;">7</div>
<div style="position:absolute;left:883.5px;width:1000px;text-align:center;top:1006.50px;line-height:18px;font-size:12px;color:#0f0f0f;white-space:pre;">19:00</div>
<div style="position:absolute;left:1033.5px;width:1000px;text-align:center;top:1006.50px;line-height:18px;font-size:12px;color:#0f0f0f;white-space:pre;">13</div>
<div style="position:absolute;left:1158.5px;width:1000px;text-align:center;top:1006.50px;line-height:18px;font-size:12px;color:#0f0f0f;white-space:pre;">17</div>
<div style="position:absolute;left:1258.5px;width:1000px;text-align:center;top:1006.50px;line-height:18px;font-size:12px;color:#0f0f0f;white-space:pre;">18</div>
<div style="position:absolute;left:72px;top:1048px;width:18px;height:18px;border-radius:3px;border:1px solid #0f0f0f;background:#fff"></div>
<div style="position:absolute;left:98px;top:1047.00px;line-height:20px;font-size:14px;color:#0f0f0f;white-space:pre;">Buy &amp; hold</div>
<svg style="position:absolute;left:174px;top:1048px;" width="22" height="18" viewBox="0 0 22 18" fill="none" stroke="#0f0f0f" stroke-width="1.15" stroke-linecap="round" stroke-linejoin="round"><path d="M2 12.500l5.500-5 4 3.500 6-6.500" stroke-width="1.200"/></svg>
<div style="position:absolute;left:230px;top:1048px;width:18px;height:18px;border-radius:3px;background:#2b2b2b"></div>
<svg style="position:absolute;left:230px;top:1048px" width="18" height="18" viewBox="0 0 18 18" fill="none" stroke="#fff" stroke-width="1.800" stroke-linecap="round" stroke-linejoin="round"><path d="M5.200 9.400l2.600 2.500 5-5.600"/></svg>
<div style="position:absolute;left:256px;top:1047.00px;line-height:20px;font-size:14px;color:#0f0f0f;white-space:pre;">Trades run-up &amp; drawdown</div>
<svg style="position:absolute;left:431px;top:1047px;" width="22" height="20" viewBox="0 0 22 20" fill="none" stroke="#0f0f0f" stroke-width="1.15" stroke-linecap="round" stroke-linejoin="round"><path d="M2.300 16.700V11h5.400v5.700zM7.700 16.700V6.700h5.400v10zM13.100 16.700V2.500h5.400v14.200z" stroke-width="1.100" stroke-linejoin="miter"/></svg>
<div style="position:absolute;left:1680px;top:1043px;width:76px;height:28px;border-radius:6px;background:#f2f2f2"></div>
<div style="position:absolute;left:1217.7px;width:1000px;text-align:center;top:1047.00px;line-height:20px;font-size:14px;font-weight:700;color:#0f0f0f;white-space:pre;">Absolute</div>
<div style="position:absolute;left:1305px;width:1000px;text-align:center;top:1047.00px;line-height:20px;font-size:14px;color:#0f0f0f;white-space:pre;">Percentage</div>
<svg style="position:absolute;left:1872px;top:0" width="48" height="1080" viewBox="1872 0 48 1080" fill="none" stroke="#0f0f0f" stroke-width="1.100" stroke-linecap="round" stroke-linejoin="round"><path d="M1888.200 55.400h19.400v21.900l-9.700-4.300-9.700 4.300z"/><path d="M1892 59.500h11.800M1892 63.700h11.800M1892 67.900h11.800"/><circle cx="1897.600" cy="111.800" r="10.200"/><path d="M1897.600 105.500v6.500h-4.600M1885.600 104.800l2.600-2.400"/><rect x="1887.400" y="93" width="28.600" height="14.600" rx="7.300" fill="#f23645" stroke="none"/><path d="M1886.500 154.800l11.500-5.900 11.500 5.900-11.500 5.900zM1886.500 160.900l11.500 5.900 11.500-5.900"/><path d="M1886.600 211.600v-16.600a1.700 1.700 0 0 1 1.700-1.700h15.800a1.700 1.700 0 0 1 1.700 1.700v10.900a1.700 1.700 0 0 1-1.700 1.700h-12.800z"/><path d="M1895.700 208v1.600a1.700 1.700 0 0 0 1.700 1.700h7.600l4.600 4.600v-14a1.700 1.700 0 0 0-1.700-1.700h-1.800"/><circle cx="1897.900" cy="861" r="14"/><circle cx="1897.900" cy="861" r="8"/><circle cx="1897.900" cy="861" r="2.100" fill="#0f0f0f"/><path d="M1897.900 861l10.100-10"/><rect x="1886.600" y="897.900" width="23.200" height="20.400" rx="2.600"/><path d="M1886.600 903.700h23.200"/><rect x="1890.600" y="895.400" width="3" height="5.200" rx="1.200" fill="#fff"/><rect x="1902.400" y="895.400" width="3" height="5.200" rx="1.200" fill="#fff"/><circle cx="1897.900" cy="952.800" r="16.900" fill="#2b2b2b" stroke="none"/><rect x="1888.8" y="943.7" width="4.200" height="4.200" rx="0.700" fill="#fff" stroke="none"/><rect x="1888.8" y="950.7" width="4.200" height="4.200" rx="0.700" fill="#fff" stroke="none"/><rect x="1888.8" y="957.7" width="4.200" height="4.200" rx="0.700" fill="#fff" stroke="none"/><rect x="1895.8" y="943.7" width="4.200" height="4.200" rx="0.700" fill="#fff" stroke="none"/><rect x="1895.8" y="950.7" width="4.200" height="4.200" rx="0.700" fill="#fff" stroke="none"/><rect x="1895.8" y="957.7" width="4.200" height="4.200" rx="0.700" fill="#fff" stroke="none"/><rect x="1902.8" y="943.7" width="4.200" height="4.200" rx="0.700" fill="#fff" stroke="none"/><rect x="1902.8" y="950.7" width="4.200" height="4.200" rx="0.700" fill="#fff" stroke="none"/><rect x="1902.8" y="957.7" width="4.200" height="4.200" rx="0.700" fill="#fff" stroke="none"/><path d="M1881 981.600h33" stroke="#e6e6e6" stroke-width="1"/><circle cx="1889" cy="1018" r="1.800"/><path d="M1887 1010.300a9.500 9.500 0 0 1 9.500 9.500M1887 1004.400a15.400 15.400 0 0 1 15.400 15.400M1887 998.200a21.600 21.600 0 0 1 21.600 21.600"/><rect x="1894" y="991" width="22" height="16" rx="8" fill="#f23645" stroke="none"/><path d="M1910.91 1051.70A13.7 13.7 0 0 1 1889.79 1067.04M1884.59 1059.24A13.7 13.7 0 0 1 1903.41 1043.46"/><path d="M1894.200 1052.300a3.900 3.900 0 1 1 5.900 3.300c-1.400.900-1.900 1.700-1.900 3.100"/><circle cx="1898" cy="1062.200" r="1.500"/><path d="M1909 1041.700l1.200 3 3 1.200-3 1.200-1.200 3-1.200-3-3-1.200 3-1.200zM1886.500 1060.300l.95 2.350 2.350.95-2.350.95-.95 2.350-.95-2.350-2.350-.95 2.350-.95z" fill="#fff"/></svg>
<div style="position:absolute;left:1401.7px;width:1000px;text-align:center;top:92.00px;line-height:17px;font-size:11px;color:#fff;white-space:pre;">99+</div>
<div style="position:absolute;left:1405px;width:1000px;text-align:center;top:990.80px;line-height:17px;font-size:11px;color:#fff;white-space:pre;">10</div>
</body></html>
